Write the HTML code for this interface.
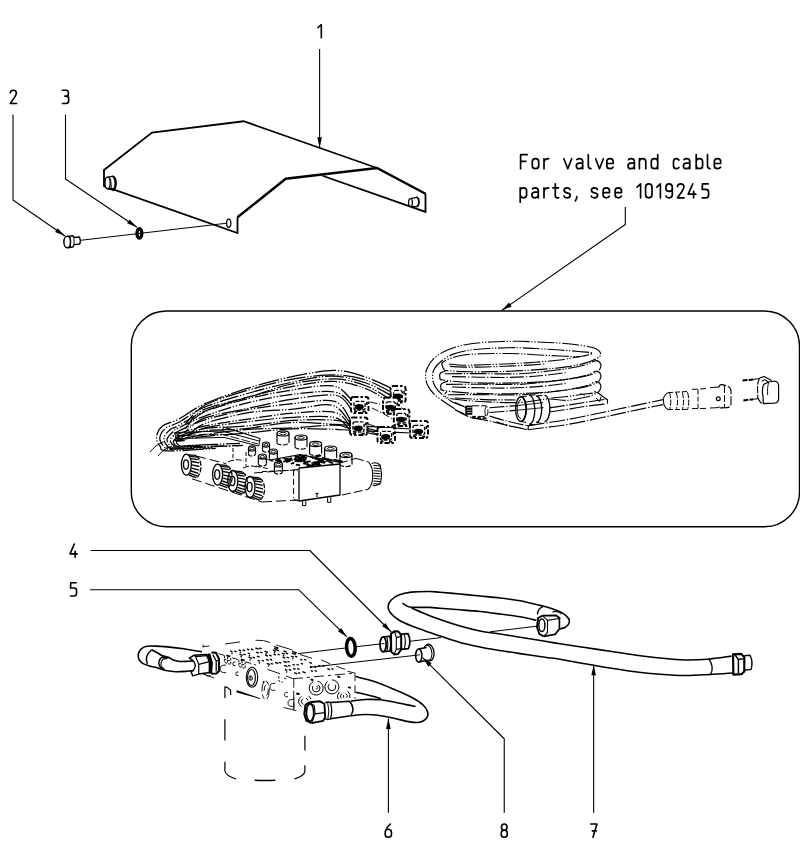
<!DOCTYPE html>
<html><head><meta charset="utf-8"><title>Parts diagram</title>
<style>
html,body{margin:0;padding:0;background:#fff;}
body{width:800px;height:848px;overflow:hidden;font-family:"Liberation Sans",sans-serif;}
svg{display:block;}
</style></head><body>
<svg width="800" height="848" viewBox="0 0 800 848">
<rect width="800" height="848" fill="#fff"/>
<path d="M317.90,27.73 L321.32,24.50 L321.32,37.80" fill="none" stroke="#000" stroke-width="1.60" stroke-linecap="round" stroke-linejoin="round"/>
<path d="M10.30,92.86 Q10.49,90.20 13.34,90.20 Q16.38,90.20 16.38,93.05 Q16.38,94.95 14.48,97.42 L10.30,103.50 L16.57,103.50" fill="none" stroke="#000" stroke-width="1.60" stroke-linecap="round" stroke-linejoin="round"/>
<path d="M62.30,90.20 L66.10,90.20 Q68.38,90.20 68.38,92.48 L68.38,94.00 Q68.38,96.09 66.29,96.09 L64.77,96.09 M66.29,96.09 Q68.66,96.09 68.66,98.56 L68.66,100.84 Q68.66,103.50 65.91,103.50 L62.49,103.50" fill="none" stroke="#000" stroke-width="1.60" stroke-linecap="round" stroke-linejoin="round"/>
<path d="M75.13,557.30 L75.13,551.22 M74.37,544.00 L70.00,553.88 L77.22,553.88" fill="none" stroke="#000" stroke-width="1.60" stroke-linecap="round" stroke-linejoin="round"/>
<path d="M76.19,582.70 L70.77,582.70 L70.49,588.02 L73.91,588.02 Q76.57,588.02 76.57,590.49 L76.57,593.34 Q76.57,596.00 73.91,596.00 L70.49,596.00" fill="none" stroke="#000" stroke-width="1.60" stroke-linecap="round" stroke-linejoin="round"/>
<path d="M390.33,824.00 Q385.20,828.75 385.20,833.12 L385.20,834.26 Q385.20,837.30 388.33,837.30 Q391.47,837.30 391.47,834.26 L391.47,832.55 Q391.47,829.32 388.33,829.32 Q385.20,829.32 385.20,832.55" fill="none" stroke="#000" stroke-width="1.60" stroke-linecap="round" stroke-linejoin="round"/>
<path d="M504.24,830.08 Q501.49,830.08 501.49,827.42 L501.49,826.85 Q501.49,824.00 504.24,824.00 Q507.00,824.00 507.00,826.85 L507.00,827.42 Q507.00,830.08 504.24,830.08 Q501.20,830.08 501.20,833.12 L501.20,834.26 Q501.20,837.30 504.24,837.30 Q507.28,837.30 507.28,834.26 L507.28,833.12 Q507.28,830.08 504.24,830.08 Z" fill="none" stroke="#000" stroke-width="1.60" stroke-linecap="round" stroke-linejoin="round"/>
<path d="M590.70,824.00 L596.97,824.00 L592.98,837.30 M592.22,830.84 L596.40,830.84" fill="none" stroke="#000" stroke-width="1.60" stroke-linecap="round" stroke-linejoin="round"/>
<path d="M520.60,168.70 L520.60,154.70 L527.20,154.70 M520.60,161.30 L525.80,161.30" fill="none" stroke="#000" stroke-width="1.68" stroke-linecap="round" stroke-linejoin="round"/>
<path d="M532.30,165.70 L532.30,161.70 Q532.30,158.70 535.50,158.70 Q538.70,158.70 538.70,161.70 L538.70,165.70 Q538.70,168.70 535.50,168.70 Q532.30,168.70 532.30,165.70 Z" fill="none" stroke="#000" stroke-width="1.68" stroke-linecap="round" stroke-linejoin="round"/>
<path d="M544.00,168.70 L544.00,158.70 M544.00,162.70 Q544.30,158.70 548.60,158.70" fill="none" stroke="#000" stroke-width="1.68" stroke-linecap="round" stroke-linejoin="round"/>
<path d="M563.90,158.70 L567.80,168.70 L571.70,158.70" fill="none" stroke="#000" stroke-width="1.68" stroke-linecap="round" stroke-linejoin="round"/>
<path d="M576.90,159.70 Q577.90,158.70 579.50,158.70 Q582.70,158.70 582.70,161.70 L582.70,168.70 M582.70,163.10 L579.30,163.10 Q576.30,163.10 576.30,165.90 Q576.30,168.70 579.30,168.70 Q582.70,168.70 582.70,165.70" fill="none" stroke="#000" stroke-width="1.68" stroke-linecap="round" stroke-linejoin="round"/>
<path d="M588.30,154.70 L588.30,166.10 Q588.30,168.70 590.90,168.70" fill="none" stroke="#000" stroke-width="1.68" stroke-linecap="round" stroke-linejoin="round"/>
<path d="M595.60,158.70 L599.50,168.70 L603.40,158.70" fill="none" stroke="#000" stroke-width="1.68" stroke-linecap="round" stroke-linejoin="round"/>
<path d="M606.80,163.50 L613.20,163.50 L613.20,161.70 Q613.20,158.70 610.00,158.70 Q606.80,158.70 606.80,161.70 L606.80,165.70 Q606.80,168.70 610.00,168.70 Q612.40,168.70 613.10,167.10" fill="none" stroke="#000" stroke-width="1.68" stroke-linecap="round" stroke-linejoin="round"/>
<path d="M628.60,159.70 Q629.60,158.70 631.20,158.70 Q634.40,158.70 634.40,161.70 L634.40,168.70 M634.40,163.10 L631.00,163.10 Q628.00,163.10 628.00,165.90 Q628.00,168.70 631.00,168.70 Q634.40,168.70 634.40,165.70" fill="none" stroke="#000" stroke-width="1.68" stroke-linecap="round" stroke-linejoin="round"/>
<path d="M639.40,168.70 L639.40,158.70 M639.40,161.70 Q639.40,158.70 642.60,158.70 Q645.80,158.70 645.80,161.70 L645.80,168.70" fill="none" stroke="#000" stroke-width="1.68" stroke-linecap="round" stroke-linejoin="round"/>
<path d="M657.70,154.70 L657.70,168.70 M657.70,165.70 Q657.70,168.70 654.50,168.70 Q651.30,168.70 651.30,165.70 L651.30,161.70 Q651.30,158.70 654.50,158.70 Q657.70,158.70 657.70,161.70" fill="none" stroke="#000" stroke-width="1.68" stroke-linecap="round" stroke-linejoin="round"/>
<path d="M678.90,160.10 Q678.30,158.70 676.50,158.70 Q673.50,158.70 673.50,161.70 L673.50,165.70 Q673.50,168.70 676.50,168.70 Q678.30,168.70 678.90,167.30" fill="none" stroke="#000" stroke-width="1.68" stroke-linecap="round" stroke-linejoin="round"/>
<path d="M684.00,159.70 Q685.00,158.70 686.60,158.70 Q689.80,158.70 689.80,161.70 L689.80,168.70 M689.80,163.10 L686.40,163.10 Q683.40,163.10 683.40,165.90 Q683.40,168.70 686.40,168.70 Q689.80,168.70 689.80,165.70" fill="none" stroke="#000" stroke-width="1.68" stroke-linecap="round" stroke-linejoin="round"/>
<path d="M696.20,154.70 L696.20,168.70 M696.20,165.70 Q696.20,168.70 699.40,168.70 Q702.60,168.70 702.60,165.70 L702.60,161.70 Q702.60,158.70 699.40,158.70 Q696.20,158.70 696.20,161.70" fill="none" stroke="#000" stroke-width="1.68" stroke-linecap="round" stroke-linejoin="round"/>
<path d="M707.50,154.70 L707.50,166.10 Q707.50,168.70 710.10,168.70" fill="none" stroke="#000" stroke-width="1.68" stroke-linecap="round" stroke-linejoin="round"/>
<path d="M714.30,163.50 L720.70,163.50 L720.70,161.70 Q720.70,158.70 717.50,158.70 Q714.30,158.70 714.30,161.70 L714.30,165.70 Q714.30,168.70 717.50,168.70 Q719.90,168.70 720.60,167.10" fill="none" stroke="#000" stroke-width="1.68" stroke-linecap="round" stroke-linejoin="round"/>
<path d="M520.20,187.80 L520.20,202.20 M520.20,190.80 Q520.20,187.80 523.40,187.80 Q526.60,187.80 526.60,190.80 L526.60,194.80 Q526.60,197.80 523.40,197.80 Q520.20,197.80 520.20,194.80" fill="none" stroke="#000" stroke-width="1.68" stroke-linecap="round" stroke-linejoin="round"/>
<path d="M532.50,188.80 Q533.50,187.80 535.10,187.80 Q538.30,187.80 538.30,190.80 L538.30,197.80 M538.30,192.20 L534.90,192.20 Q531.90,192.20 531.90,195.00 Q531.90,197.80 534.90,197.80 Q538.30,197.80 538.30,194.80" fill="none" stroke="#000" stroke-width="1.68" stroke-linecap="round" stroke-linejoin="round"/>
<path d="M544.00,197.80 L544.00,187.80 M544.00,191.80 Q544.30,187.80 548.60,187.80" fill="none" stroke="#000" stroke-width="1.68" stroke-linecap="round" stroke-linejoin="round"/>
<path d="M555.30,183.80 L555.30,195.40 Q555.30,197.80 557.70,197.80 L558.70,197.80 M552.90,187.80 L558.50,187.80" fill="none" stroke="#000" stroke-width="1.68" stroke-linecap="round" stroke-linejoin="round"/>
<path d="M570.10,189.60 Q569.50,187.80 567.10,187.80 Q564.10,187.80 564.10,190.30 Q564.10,192.40 567.10,192.80 Q570.30,193.20 570.30,195.30 Q570.30,197.80 567.10,197.80 Q564.50,197.80 563.90,196.00" fill="none" stroke="#000" stroke-width="1.68" stroke-linecap="round" stroke-linejoin="round"/>
<path d="M576.80,196.60 L576.80,197.80 L575.40,200.80" fill="none" stroke="#000" stroke-width="1.68" stroke-linecap="round" stroke-linejoin="round"/>
<path d="M597.40,189.60 Q596.80,187.80 594.40,187.80 Q591.40,187.80 591.40,190.30 Q591.40,192.40 594.40,192.80 Q597.60,193.20 597.60,195.30 Q597.60,197.80 594.40,197.80 Q591.80,197.80 591.20,196.00" fill="none" stroke="#000" stroke-width="1.68" stroke-linecap="round" stroke-linejoin="round"/>
<path d="M603.10,192.60 L609.50,192.60 L609.50,190.80 Q609.50,187.80 606.30,187.80 Q603.10,187.80 603.10,190.80 L603.10,194.80 Q603.10,197.80 606.30,197.80 Q608.70,197.80 609.40,196.20" fill="none" stroke="#000" stroke-width="1.68" stroke-linecap="round" stroke-linejoin="round"/>
<path d="M615.10,192.60 L621.50,192.60 L621.50,190.80 Q621.50,187.80 618.30,187.80 Q615.10,187.80 615.10,190.80 L615.10,194.80 Q615.10,197.80 618.30,197.80 Q620.70,197.80 621.40,196.20" fill="none" stroke="#000" stroke-width="1.68" stroke-linecap="round" stroke-linejoin="round"/>
<path d="M637.00,187.20 L640.60,183.80 L640.60,197.80" fill="none" stroke="#000" stroke-width="1.68" stroke-linecap="round" stroke-linejoin="round"/>
<path d="M645.60,194.80 L645.60,186.80 Q645.60,183.80 648.80,183.80 Q652.00,183.80 652.00,186.80 L652.00,194.80 Q652.00,197.80 648.80,197.80 Q645.60,197.80 645.60,194.80 Z" fill="none" stroke="#000" stroke-width="1.68" stroke-linecap="round" stroke-linejoin="round"/>
<path d="M656.80,187.20 L660.40,183.80 L660.40,197.80" fill="none" stroke="#000" stroke-width="1.68" stroke-linecap="round" stroke-linejoin="round"/>
<path d="M672.30,187.20 Q672.30,183.80 669.10,183.80 Q665.90,183.80 665.90,187.20 L665.90,188.20 Q665.90,191.40 669.10,191.40 Q672.30,191.40 672.30,188.20 M672.30,187.20 L672.30,194.80 Q672.30,197.80 669.10,197.80 Q666.50,197.80 665.90,196.00" fill="none" stroke="#000" stroke-width="1.68" stroke-linecap="round" stroke-linejoin="round"/>
<path d="M677.50,186.60 Q677.70,183.80 680.70,183.80 Q683.90,183.80 683.90,186.80 Q683.90,188.80 681.90,191.40 L677.50,197.80 L684.10,197.80" fill="none" stroke="#000" stroke-width="1.68" stroke-linecap="round" stroke-linejoin="round"/>
<path d="M693.60,197.80 L693.60,191.40 M692.80,183.80 L688.20,194.20 L695.80,194.20" fill="none" stroke="#000" stroke-width="1.68" stroke-linecap="round" stroke-linejoin="round"/>
<path d="M708.20,183.80 L702.50,183.80 L702.20,189.40 L705.80,189.40 Q708.60,189.40 708.60,192.00 L708.60,195.00 Q708.60,197.80 705.80,197.80 L702.20,197.80" fill="none" stroke="#000" stroke-width="1.68" stroke-linecap="round" stroke-linejoin="round"/>
<path d="M319.60,49.00 L319.60,147.70" fill="none" stroke="#000" stroke-width="1.1" stroke-linecap="butt" stroke-linejoin="round"/>
<polygon points="319.60,147.70 317.30,137.20 321.90,137.20" fill="#000"/>
<path d="M13.00,114.50 L13.00,200.00 L65.00,236.00" fill="none" stroke="#000" stroke-width="1.1" stroke-linecap="butt" stroke-linejoin="round"/>
<polygon points="65.00,236.00 55.06,231.91 57.68,228.13" fill="#000"/>
<path d="M65.50,114.50 L65.50,179.00 L137.00,227.20" fill="none" stroke="#000" stroke-width="1.1" stroke-linecap="butt" stroke-linejoin="round"/>
<polygon points="137.00,227.20 127.01,223.24 129.58,219.42" fill="#000"/>
<path d="M625.30,207.00 L625.30,224.50 L501.70,310.50" fill="none" stroke="#000" stroke-width="1.1" stroke-linecap="butt" stroke-linejoin="round"/>
<polygon points="501.70,310.50 509.01,302.62 511.63,306.39" fill="#000"/>
<rect x="131.3" y="311" width="668.2" height="215.8" rx="35" ry="35" fill="none" stroke="#000" stroke-width="1.4"/>
<path d="M322.5,175.75 L425.5,211.9 L425.5,193.75 M377,168 L243.75,121.25 L152,132.5 L104,170 L104,186 L237.5,233 L237.5,217.3" fill="none" stroke="#000" stroke-width="1.8" stroke-linecap="butt" stroke-linejoin="miter"/>
<path d="M237.5,217.3 L285.75,178.75 L377,168 L425.5,193.75" fill="none" stroke="#000" stroke-width="2.5" stroke-linecap="butt" stroke-linejoin="miter"/>
<path d="M80.7,240.3 L226,223.3" fill="none" stroke="#000" stroke-width="1.0" stroke-linecap="butt" stroke-linejoin="round"/>
<ellipse cx="228.75" cy="223.25" rx="2.1" ry="4.1" fill="#fff" stroke="#000" stroke-width="1.3"/>
<path d="M107.5,177.2 L112.8,176.4 M107.5,188.8 L112.8,189.8" fill="none" stroke="#000" stroke-width="1.2" stroke-linecap="butt" stroke-linejoin="round"/>
<path d="M112.5,176.4 A3.2,6.8 0 0 1 112.5,190" fill="none" stroke="#000" stroke-width="2.4" stroke-linecap="butt" stroke-linejoin="round"/>
<ellipse cx="107.6" cy="183" rx="2.6" ry="5.8" fill="#fff" stroke="#000" stroke-width="1.3"/>
<path d="M110.6,178.6 L111.4,187.6" fill="none" stroke="#000" stroke-width="0.9" stroke-linecap="butt" stroke-linejoin="round"/>
<path d="M410.5,198.6 L416.5,197.4 M410.5,206.4 L416.5,206.6" fill="none" stroke="#000" stroke-width="1.2" stroke-linecap="butt" stroke-linejoin="round"/>
<path d="M416.3,197.4 A2.6,4.6 0 0 1 416.3,206.6" fill="none" stroke="#000" stroke-width="1.8" stroke-linecap="butt" stroke-linejoin="round"/>
<ellipse cx="410.5" cy="202.5" rx="1.9" ry="3.9" fill="#fff" stroke="#000" stroke-width="1.3"/>
<path d="M67.3,236.4 L73,235.8 L74,237.4 L79.5,237 Q81,240.6 79.8,244 L74,244.6 L73,247 L67.3,247.8" fill="none" stroke="#000" stroke-width="1.4" stroke-linecap="butt" stroke-linejoin="round"/>
<path d="M74,237.4 L74,244.6 M70.2,236.2 L70.6,247.4" fill="none" stroke="#000" stroke-width="1.0" stroke-linecap="butt" stroke-linejoin="round"/>
<ellipse cx="67.2" cy="242" rx="3.3" ry="5.7" fill="#fff" stroke="#000" stroke-width="1.5"/>
<ellipse cx="139.4" cy="233.4" rx="2.4" ry="4.7" fill="none" stroke="#000" stroke-width="3.3"/>
<path d="M455.00,408.75 C453.33,407.71 448.54,405.00 445.00,402.50 C441.46,400.00 436.67,396.67 433.75,393.75 C430.83,390.83 428.86,387.92 427.50,385.00 C426.14,382.08 425.60,379.17 425.60,376.25 C425.60,373.33 425.93,370.62 427.50,367.50 C429.07,364.38 431.67,360.42 435.00,357.50 C438.33,354.58 442.71,352.08 447.50,350.00 C452.29,347.92 457.92,346.25 463.75,345.00 C469.58,343.75 476.25,343.08 482.50,342.50 C488.75,341.92 495.00,341.71 501.25,341.50 C507.50,341.29 514.38,341.18 520.00,341.25 C525.62,341.32 528.33,341.59 535.00,341.90 C541.67,342.21 552.71,342.58 560.00,343.10 C567.29,343.62 573.33,344.27 578.75,345.00 C584.17,345.73 589.17,346.57 592.50,347.50 C595.83,348.43 597.40,349.45 598.75,350.60 C600.10,351.75 600.81,353.15 600.60,354.40 C600.39,355.65 600.10,356.65 597.50,358.10 C594.90,359.55 590.21,361.63 585.00,363.10 C579.79,364.57 573.54,365.85 566.25,366.90 C558.96,367.95 550.62,368.67 541.25,369.40 C531.88,370.12 521.88,370.85 510.00,371.25 C498.12,371.65 480.52,371.91 470.00,371.80 C459.48,371.69 451.27,371.11 446.90,370.60 C442.52,370.09 444.52,369.60 443.75,368.75 C442.98,367.90 442.51,366.54 442.30,365.50 C442.09,364.46 441.01,363.73 442.50,362.50 C443.99,361.27 447.71,359.35 451.25,358.10 C454.79,356.85 458.54,355.73 463.75,355.00 C468.96,354.27 476.25,354.00 482.50,353.75 C488.75,353.50 495.00,353.50 501.25,353.50 C507.50,353.50 514.38,353.54 520.00,353.75 C525.62,353.96 528.33,354.38 535.00,354.75 C541.67,355.12 552.50,355.64 560.00,356.00 C567.50,356.36 576.67,356.75 580.00,356.90" fill="none" stroke="#000" stroke-width="1.15" stroke-linecap="butt" stroke-linejoin="round" stroke-dasharray="17 1.7 1.3 1.7 1.3 1.7"/>
<path d="M463.75,406.25 C461.88,405.52 456.04,403.77 452.50,401.90 C448.96,400.02 445.42,397.61 442.50,395.00 C439.58,392.39 436.67,389.17 435.00,386.25 C433.33,383.33 432.60,380.42 432.50,377.50 C432.40,374.58 432.94,371.46 434.40,368.75 C435.86,366.04 438.23,363.64 441.25,361.25 C444.27,358.86 447.71,356.27 452.50,354.40 C457.29,352.52 463.96,350.98 470.00,350.00 C476.04,349.02 482.50,348.88 488.75,348.50 C495.00,348.12 502.29,347.88 507.50,347.75 C512.71,347.62 515.42,347.62 520.00,347.75 C524.58,347.88 528.33,348.12 535.00,348.50 C541.67,348.88 552.71,349.50 560.00,350.00 C567.29,350.50 573.33,350.98 578.75,351.50 C584.17,352.02 591.29,352.45 592.50,353.10 C593.71,353.75 588.50,354.77 586.00,355.40 C583.50,356.03 581.83,356.13 577.50,356.90 C573.17,357.67 567.08,359.11 560.00,360.00 C552.92,360.89 543.33,361.62 535.00,362.25 C526.67,362.88 518.75,363.32 510.00,363.75 C501.25,364.18 490.21,364.56 482.50,364.80 C474.79,365.04 469.50,365.33 463.75,365.20 C458.00,365.07 450.62,364.20 448.00,364.00" fill="none" stroke="#000" stroke-width="1.15" stroke-linecap="butt" stroke-linejoin="round" stroke-dasharray="17 1.7 1.3 1.7 1.3 1.7"/>
<path d="M450.00,366.40 C453.33,366.53 462.50,367.17 470.00,367.20 C477.50,367.23 486.67,366.87 495.00,366.60 C503.33,366.33 511.67,366.03 520.00,365.60 C528.33,365.17 540.83,364.27 545.00,364.00" fill="none" stroke="#000" stroke-width="1.15" stroke-linecap="butt" stroke-linejoin="round" stroke-dasharray="17 1.7 1.3 1.7 1.3 1.7"/>
<path d="M445.00,373.75 C449.17,373.73 461.67,373.59 470.00,373.60 C478.33,373.61 486.67,373.78 495.00,373.80 C503.33,373.82 512.29,374.07 520.00,373.75 C527.71,373.43 533.54,372.73 541.25,371.90 C548.96,371.07 558.96,369.90 566.25,368.75 C573.54,367.60 580.00,366.36 585.00,365.00 C590.00,363.64 593.65,360.81 596.25,360.60 C598.85,360.39 599.98,362.39 600.60,363.75 C601.23,365.11 600.73,367.29 600.00,368.75 C599.27,370.21 598.75,371.25 596.25,372.50 C593.75,373.75 590.00,375.10 585.00,376.25 C580.00,377.40 573.54,378.46 566.25,379.40 C558.96,380.34 550.62,381.28 541.25,381.90 C531.88,382.52 521.88,382.98 510.00,383.10 C498.12,383.22 481.17,383.12 470.00,382.60 C458.83,382.08 448.00,380.85 443.00,380.00 C438.00,379.15 440.40,378.67 440.00,377.50 C439.60,376.33 439.45,374.15 440.60,373.00 C441.75,371.85 445.85,371.00 446.90,370.60" fill="none" stroke="#000" stroke-width="1.15" stroke-linecap="butt" stroke-linejoin="round" stroke-dasharray="17 1.7 1.3 1.7 1.3 1.7"/>
<path d="M445.97,384.35 C450.11,384.33 462.53,384.19 470.81,384.20 C479.09,384.21 487.38,384.38 495.66,384.40 C503.94,384.43 512.84,384.67 520.50,384.35 C528.16,384.03 533.96,383.33 541.62,382.50 C549.28,381.67 559.21,380.50 566.46,379.35 C573.71,378.20 580.12,376.96 585.09,375.60 C590.06,374.24 593.69,371.41 596.27,371.20 C598.86,370.99 599.98,372.99 600.60,374.35 C601.22,375.71 600.72,377.89 600.00,379.35 C599.28,380.81 598.76,381.85 596.27,383.10 C593.79,384.35 590.06,385.70 585.09,386.85 C580.12,388.00 573.71,389.06 566.46,390.00 C559.21,390.94 550.93,391.88 541.62,392.50 C532.30,393.12 522.36,393.58 510.56,393.70 C498.76,393.82 481.91,393.72 470.81,393.20 C459.72,392.68 448.95,391.45 443.98,390.60 C439.01,389.75 441.40,389.27 441.00,388.10 C440.60,386.93 440.45,384.75 441.60,383.60 C442.74,382.45 446.81,381.60 447.86,381.20" fill="none" stroke="#000" stroke-width="1.15" stroke-linecap="butt" stroke-linejoin="round" stroke-dasharray="17 1.7 1.3 1.7 1.3 1.7"/>
<path d="M447.91,394.75 C451.99,394.73 464.26,394.59 472.44,394.60 C480.61,394.61 488.79,394.78 496.97,394.80 C505.15,394.82 513.94,395.07 521.50,394.75 C529.06,394.43 534.79,393.73 542.35,392.90 C549.92,392.07 559.73,390.90 566.88,389.75 C574.04,388.60 580.38,387.36 585.28,386.00 C590.19,384.64 593.77,381.81 596.32,381.60 C598.87,381.39 599.98,383.39 600.59,384.75 C601.20,386.11 600.71,388.29 600.00,389.75 C599.29,391.21 598.77,392.25 596.32,393.50 C593.87,394.75 590.19,396.10 585.28,397.25 C580.38,398.40 573.18,400.11 566.88,400.40 C560.59,400.69 555.31,398.65 547.50,399.00 C539.69,399.35 531.25,402.08 520.00,402.50 C508.75,402.92 491.67,402.17 480.00,401.50 C468.33,400.83 455.83,399.67 450.00,398.50 C444.17,397.33 445.50,395.65 445.00,394.50 C444.50,393.35 446.67,392.08 447.00,391.60" fill="none" stroke="#000" stroke-width="1.15" stroke-linecap="butt" stroke-linejoin="round" stroke-dasharray="17 1.7 1.3 1.7 1.3 1.7"/>
<path d="M452.00,376.60 C456.67,376.70 470.33,377.07 480.00,377.20 C489.67,377.33 500.00,377.63 510.00,377.40 C520.00,377.17 530.67,376.60 540.00,375.80 C549.33,375.00 561.67,373.13 566.00,372.60" fill="none" stroke="#000" stroke-width="1.15" stroke-linecap="butt" stroke-linejoin="round" stroke-dasharray="14 2 1.3 2"/>
<path d="M452.00,387.00 C456.67,387.13 470.33,387.63 480.00,387.80 C489.67,387.97 500.00,388.23 510.00,388.00 C520.00,387.77 530.67,387.17 540.00,386.40 C549.33,385.63 561.67,383.90 566.00,383.40" fill="none" stroke="#000" stroke-width="1.15" stroke-linecap="butt" stroke-linejoin="round" stroke-dasharray="14 2 1.3 2"/>
<path d="M455.00,398.00 C460.00,398.27 474.92,399.27 485.00,399.60 C495.08,399.93 510.42,399.93 515.50,400.00" fill="none" stroke="#000" stroke-width="1.15" stroke-linecap="butt" stroke-linejoin="round" stroke-dasharray="17 1.7 1.3 1.7 1.3 1.7"/>
<path d="M551.30,398.00 C553.58,397.78 559.38,397.37 565.00,396.70 C570.62,396.03 579.58,394.70 585.00,394.00 C590.42,393.30 595.42,392.75 597.50,392.50" fill="none" stroke="#000" stroke-width="1.15" stroke-linecap="butt" stroke-linejoin="round" stroke-dasharray="17 1.7 1.3 1.7 1.3 1.7"/>
<path d="M455,402.2 L466,407.7 M455,409.75 L464.6,413.9" fill="none" stroke="#000" stroke-width="1.0" stroke-linecap="butt" stroke-linejoin="round"/>
<rect x="465.3" y="405.6" width="7" height="9.2" fill="#000"/>
<path d="M467,407.6 L471.6,407.6 M467,410.2 L471.6,410.2 M467,412.6 L471.6,412.6" fill="none" stroke="#fff" stroke-width="0.7" stroke-linecap="butt" stroke-linejoin="round"/>
<path d="M472.2,405.8 L486.5,405.8 Q489.6,411 486.6,416.4 L472.2,416.4" fill="none" stroke="#000" stroke-width="1.0" stroke-linecap="butt" stroke-linejoin="round" stroke-dasharray="7 2"/>
<path d="M486,406.2 Q483.6,411 485.6,416.2" fill="none" stroke="#000" stroke-width="0.9" stroke-linecap="butt" stroke-linejoin="round"/>
<path d="M471.5,417.6 L486.6,418.4" fill="none" stroke="#000" stroke-width="1.8" stroke-linecap="butt" stroke-linejoin="round" stroke-dasharray="4 1.5"/>
<path d="M489.40,407.70 C493.98,407.35 512.32,405.95 516.90,405.60" fill="none" stroke="#000" stroke-width="1.15" stroke-linecap="butt" stroke-linejoin="round" stroke-dasharray="15 1.8 1.3 1.8"/>
<path d="M489.40,412.50 C493.75,412.15 511.15,410.75 515.50,410.40" fill="none" stroke="#000" stroke-width="1.15" stroke-linecap="butt" stroke-linejoin="round" stroke-dasharray="15 1.8 1.3 1.8"/>
<path d="M521.1,396.7 A5.4,12.5 0 0 1 521.1,421.6" fill="none" stroke="#000" stroke-width="1.35" stroke-linecap="butt" stroke-linejoin="round"/>
<path d="M521.1,396.7 L527.1,396.1 M521.1,421.6 L526.1,422.4" fill="none" stroke="#000" stroke-width="1.0" stroke-linecap="butt" stroke-linejoin="round"/>
<path d="M529.4,395.4 A5.4,14.4 0 0 1 529.4,424.2" fill="none" stroke="#000" stroke-width="1.35" stroke-linecap="butt" stroke-linejoin="round"/>
<path d="M529.4,395.4 L535.4,394.8 M529.4,424.2 L534.4,425.0" fill="none" stroke="#000" stroke-width="1.0" stroke-linecap="butt" stroke-linejoin="round"/>
<path d="M536.3,396.0 A5.4,13.2 0 0 1 536.3,422.4" fill="none" stroke="#000" stroke-width="1.35" stroke-linecap="butt" stroke-linejoin="round"/>
<path d="M536.3,396.0 L542.3,395.4 M536.3,422.4 L541.3,423.2" fill="none" stroke="#000" stroke-width="1.0" stroke-linecap="butt" stroke-linejoin="round"/>
<path d="M544.5,395.4 A5.4,13.1 0 0 1 544.5,421.6" fill="none" stroke="#000" stroke-width="1.35" stroke-linecap="butt" stroke-linejoin="round"/>
<ellipse cx="521" cy="409" rx="5.4" ry="12.3" fill="none" stroke="#000" stroke-width="1.35"/>
<path d="M521,399.6 A3.6,9 0 0 0 521,418.6" fill="none" stroke="#000" stroke-width="1.0" stroke-linecap="butt" stroke-linejoin="round"/>
<path d="M516.9,405.6 L543,402.6 M515.5,410.4 L543.6,407.6" fill="none" stroke="#000" stroke-width="0.9" stroke-linecap="butt" stroke-linejoin="round"/>
<path d="M549.90,407.70 C552.42,407.35 559.15,406.48 565.00,405.60 C570.85,404.72 577.90,403.50 585.00,402.40 C592.10,401.30 603.83,399.57 607.60,399.00" fill="none" stroke="#000" stroke-width="1.15" stroke-linecap="butt" stroke-linejoin="round" stroke-dasharray="15 1.8 1.3 1.8"/>
<path d="M549.90,411.80 C552.42,411.46 559.15,410.65 565.00,409.75 C570.85,408.85 578.17,407.36 585.00,406.40 C591.83,405.44 602.50,404.40 606.00,404.00" fill="none" stroke="#000" stroke-width="1.15" stroke-linecap="butt" stroke-linejoin="round" stroke-dasharray="15 1.8 1.3 1.8"/>
<path d="M597.5,392.5 L607.5,400 L607.5,403.75" fill="none" stroke="#000" stroke-width="1.1" stroke-linecap="butt" stroke-linejoin="round"/>
<path d="M596,398 L599.6,401.6 L601.2,396.6" fill="none" stroke="#000" stroke-width="1.0" stroke-linecap="butt" stroke-linejoin="round"/>
<path d="M580,393.6 L585,395.2 M594,391 L597,392.6" fill="none" stroke="#000" stroke-width="0.9" stroke-linecap="butt" stroke-linejoin="round"/>
<path d="M455.00,409.75 C457.50,410.96 464.27,415.12 470.00,417.00 C475.73,418.88 482.73,419.50 489.40,421.00 C496.07,422.50 503.58,424.55 510.00,426.00 C516.42,427.45 524.92,429.08 527.90,429.70" fill="none" stroke="#000" stroke-width="1.15" stroke-linecap="butt" stroke-linejoin="round" stroke-dasharray="15 1.8 1.3 1.8"/>
<path d="M489.40,416.00 C492.00,416.77 498.82,419.00 505.00,420.60 C511.18,422.20 522.92,424.77 526.50,425.60" fill="none" stroke="#000" stroke-width="1.15" stroke-linecap="butt" stroke-linejoin="round" stroke-dasharray="15 1.8 1.3 1.8"/>
<path d="M496.25,421.90 C498.88,422.68 509.38,425.82 512.00,426.60" fill="none" stroke="#000" stroke-width="1.15" stroke-linecap="butt" stroke-linejoin="round" stroke-dasharray="8 2 1.5 2"/>
<path d="M528.6,425.6 L527.9,429.7 M526.5,425.6 L528.6,425.6" fill="none" stroke="#000" stroke-width="1.1" stroke-linecap="butt" stroke-linejoin="round"/>
<path d="M528.60,425.60 C534.67,424.67 553.10,422.10 565.00,420.00 C576.90,417.90 589.17,415.23 600.00,413.00 C610.83,410.77 619.50,408.83 630.00,406.60 C640.50,404.37 657.50,400.77 663.00,399.60" fill="none" stroke="#000" stroke-width="1.15" stroke-linecap="butt" stroke-linejoin="round" stroke-dasharray="16 1.8 1.3 1.8"/>
<path d="M527.90,429.70 C534.08,428.90 552.98,426.85 565.00,424.90 C577.02,422.95 589.17,420.25 600.00,418.00 C610.83,415.75 619.50,413.63 630.00,411.40 C640.50,409.17 657.50,405.73 663.00,404.60" fill="none" stroke="#000" stroke-width="1.15" stroke-linecap="butt" stroke-linejoin="round" stroke-dasharray="16 1.8 1.3 1.8"/>
<path d="M668,392.6 Q662.6,396 663.5,401 Q663.5,407 668,409.6" fill="none" stroke="#000" stroke-width="1.1" stroke-linecap="butt" stroke-linejoin="round"/>
<path d="M668,392.6 L689,391.4 M668,409.6 L689,409.4" fill="none" stroke="#000" stroke-width="1.0" stroke-linecap="butt" stroke-linejoin="round" stroke-dasharray="5 2"/>
<path d="M669.5,392.2 Q672.1,401.0 669.5,409.8" fill="none" stroke="#000" stroke-width="1.0" stroke-linecap="butt" stroke-linejoin="round" stroke-dasharray="6 1.5"/>
<path d="M676.2,392.2 Q678.9,401.0 676.2,409.8" fill="none" stroke="#000" stroke-width="1.0" stroke-linecap="butt" stroke-linejoin="round" stroke-dasharray="6 1.5"/>
<path d="M682.2,392.2 Q684.9,401.0 682.2,409.8" fill="none" stroke="#000" stroke-width="1.0" stroke-linecap="butt" stroke-linejoin="round" stroke-dasharray="6 1.5"/>
<path d="M687.5,392.2 Q690.1,401.0 687.5,409.8" fill="none" stroke="#000" stroke-width="1.0" stroke-linecap="butt" stroke-linejoin="round" stroke-dasharray="6 1.5"/>
<path d="M692,389.4 L707,388.6 M692,408.6 L707,408.4" fill="none" stroke="#000" stroke-width="1.0" stroke-linecap="butt" stroke-linejoin="round" stroke-dasharray="6 2"/>
<path d="M698,389.6 L698,408.4" fill="none" stroke="#000" stroke-width="1.0" stroke-linecap="butt" stroke-linejoin="round" stroke-dasharray="5 2"/>
<path d="M710,387.6 L719,387 M710,408 L719,407.6" fill="none" stroke="#000" stroke-width="1.0" stroke-linecap="butt" stroke-linejoin="round"/>
<path d="M719,387.6 Q719,384.4 722,384.6 L727.6,386 Q731.2,388 731,392 L731,403 Q731,407.4 727,407.6 L721,408" fill="none" stroke="#000" stroke-width="1.1" stroke-linecap="butt" stroke-linejoin="round" stroke-dasharray="9 2"/>
<path d="M724.4,386 L724.6,407.4" fill="none" stroke="#000" stroke-width="1.0" stroke-linecap="butt" stroke-linejoin="round" stroke-dasharray="7 2"/>
<circle cx="718.3" cy="398.8" r="1.9" fill="none" stroke="#000" stroke-width="1.2"/>
<path d="M719,406.6 Q721,409.6 723,407.2" fill="none" stroke="#000" stroke-width="1.0" stroke-linecap="butt" stroke-linejoin="round"/>
<path d="M742.6,380.6 L753.5,379.4 M743.4,400.4 L753.5,399.2" fill="none" stroke="#000" stroke-width="2.0" stroke-linecap="butt" stroke-linejoin="round" stroke-dasharray="5 1.2"/>
<path d="M753.5,379.4 L759,378.6 M753.5,399.2 L759,398.6" fill="none" stroke="#000" stroke-width="1.0" stroke-linecap="butt" stroke-linejoin="round"/>
<path d="M759.6,378 Q757,383 757.6,390 L757.8,398 M757.8,398 L760.6,402.6 L763.4,403.6" fill="none" stroke="#000" stroke-width="1.1" stroke-linecap="butt" stroke-linejoin="round" stroke-dasharray="7 1.5"/>
<path d="M759.6,378 L764,376.6 L771.6,380.4 M761.8,381.4 L764.6,379.6 L768.6,382" fill="none" stroke="#000" stroke-width="1.1" stroke-linecap="butt" stroke-linejoin="round"/>
<path d="M763.6,384.4 Q761.6,390 763,396.6 L763.4,403.6 L774.6,403.2 Q778.8,402.6 778.6,398 L778.6,386 Q778.6,381.6 774.6,381 L768.6,382 L763.6,384.4" fill="none" stroke="#000" stroke-width="1.2" stroke-linecap="butt" stroke-linejoin="round"/>
<path d="M768.6,382 Q767,388 767.6,395" fill="none" stroke="#000" stroke-width="0.9" stroke-linecap="butt" stroke-linejoin="round"/>
<path d="M390.86,388.00 C386.38,386.08 373.42,379.42 364.00,376.50 C354.58,373.58 346.34,370.43 334.35,370.45 C322.36,370.48 306.41,373.70 292.05,376.64 C277.68,379.59 262.78,383.57 248.17,388.12 C233.57,392.67 215.99,398.76 204.41,403.94 C192.83,409.11 185.64,415.46 178.66,419.15 C171.69,422.84 166.23,423.09 162.54,426.07 C158.85,429.04 156.94,433.60 156.54,436.98 C156.14,440.37 158.31,444.04 160.14,446.37 C161.98,448.70 158.28,450.64 167.54,450.96 C176.81,451.29 207.71,448.75 215.74,448.30" fill="none" stroke="#000" stroke-width="1.25" stroke-linecap="butt" stroke-linejoin="round" stroke-dasharray="21 1.8 1.3 1.8 1.3 1.8"/>
<path d="M391.93,392.50 C387.44,390.38 374.59,382.67 365.00,379.75 C355.41,376.83 346.68,375.05 334.40,374.98 C322.12,374.92 306.07,376.74 291.31,379.38 C276.54,382.03 260.27,386.50 245.78,390.84 C231.29,395.19 214.44,399.92 204.38,405.46 C194.33,411.00 188.60,420.98 185.44,424.08" fill="none" stroke="#000" stroke-width="1.25" stroke-linecap="butt" stroke-linejoin="round" stroke-dasharray="22 1.8 1.3 1.8 1.3 1.8"/>
<path d="M393.77,397.00 C389.14,394.67 376.24,386.47 366.00,383.00 C355.76,379.53 344.49,376.33 332.33,376.16 C320.17,375.99 307.57,378.99 293.03,381.99 C278.50,385.00 259.99,389.97 245.12,394.21 C230.25,398.46 214.85,402.80 203.82,407.48 C192.80,412.16 185.30,418.91 178.96,422.32 C172.63,425.73 169.01,425.41 165.82,427.95 C162.63,430.50 160.22,434.60 159.82,437.58 C159.42,440.57 161.58,443.89 163.42,445.85 C165.25,447.80 164.75,449.16 170.82,449.31 C176.88,449.46 194.99,447.17 199.82,446.75" fill="none" stroke="#000" stroke-width="1.25" stroke-linecap="butt" stroke-linejoin="round" stroke-dasharray="19 1.8 1.3 1.8 1.3 1.8"/>
<path d="M393.15,401.50 C388.79,398.96 376.67,390.01 367.00,386.25 C357.33,382.49 347.89,379.29 335.11,378.96 C322.34,378.63 304.72,381.23 290.35,384.26 C275.97,387.28 263.27,392.90 248.86,397.13 C234.44,401.35 214.03,404.95 203.85,409.59 C193.67,414.23 190.46,422.39 187.78,424.95" fill="none" stroke="#000" stroke-width="1.25" stroke-linecap="butt" stroke-linejoin="round" stroke-dasharray="18 1.8 1.3 1.8 1.3 1.8"/>
<path d="M394.02,406.00 C389.69,403.25 378.04,393.59 368.00,389.50 C357.96,385.41 346.30,381.98 333.79,381.47 C321.28,380.96 307.30,383.82 292.93,386.45 C278.56,389.07 262.27,393.06 247.57,397.20 C232.88,401.33 216.19,406.56 204.76,411.25 C193.33,415.95 184.80,422.30 178.99,425.38 C173.18,428.46 172.42,427.62 169.90,429.74 C167.39,431.86 164.30,435.40 163.90,438.10 C163.50,440.81 165.67,444.16 167.50,445.99 C169.34,447.82 167.30,448.79 174.90,449.08 C182.51,449.38 206.75,448.00 213.12,447.78" fill="none" stroke="#000" stroke-width="1.25" stroke-linecap="butt" stroke-linejoin="round" stroke-dasharray="13 1.8 1.3 1.8 1.3 1.8"/>
<path d="M351.00,399.00 C347.93,396.80 342.75,387.26 332.59,385.82 C322.43,384.39 304.08,388.24 290.04,390.38 C275.99,392.51 262.71,394.97 248.32,398.61 C233.94,402.26 214.24,407.26 203.72,412.24 C193.20,417.23 188.30,425.81 185.21,428.52" fill="none" stroke="#000" stroke-width="1.25" stroke-linecap="butt" stroke-linejoin="round" stroke-dasharray="14 1.8 1.3 1.8 1.3 1.8"/>
<path d="M351.00,404.00 C348.22,402.00 344.43,393.56 334.35,392.00 C324.27,390.43 305.02,392.80 290.54,394.61 C276.07,396.42 261.90,399.24 247.51,402.86 C233.12,406.47 215.74,412.07 204.19,416.29 C192.63,420.50 183.40,425.57 178.21,428.14 C173.01,430.71 174.89,429.84 173.03,431.70 C171.17,433.55 167.43,436.87 167.03,439.25 C166.63,441.64 168.80,444.56 170.63,446.02 C172.46,447.48 166.08,448.07 178.03,447.99 C189.97,447.90 231.58,445.91 242.29,445.50" fill="none" stroke="#000" stroke-width="1.25" stroke-linecap="butt" stroke-linejoin="round" stroke-dasharray="13 1.8 1.3 1.8 1.3 1.8"/>
<path d="M351.00,409.00 C348.48,406.70 345.55,396.85 335.85,395.22 C326.15,393.58 307.41,396.99 292.82,399.17 C278.23,401.36 263.03,405.16 248.29,408.33 C233.56,411.49 215.03,414.13 204.38,418.16 C193.73,422.18 187.71,430.09 184.37,432.47" fill="none" stroke="#000" stroke-width="1.25" stroke-linecap="butt" stroke-linejoin="round" stroke-dasharray="21 1.8 1.3 1.8 1.3 1.8"/>
<path d="M350.00,419.00 C347.41,416.06 343.85,403.93 334.46,401.34 C325.07,398.76 308.57,402.01 293.67,403.49 C278.77,404.97 259.87,407.49 245.07,410.22 C230.26,412.94 215.96,416.35 204.84,419.86 C193.71,423.36 183.07,428.98 178.31,431.25 C173.55,433.53 177.61,432.08 176.27,433.49 C174.93,434.91 170.67,437.71 170.27,439.73 C169.87,441.76 172.04,444.48 173.87,445.65 C175.71,446.82 169.77,446.79 181.27,446.76 C192.77,446.73 232.61,445.69 242.88,445.47" fill="none" stroke="#000" stroke-width="1.25" stroke-linecap="butt" stroke-linejoin="round" stroke-dasharray="14 1.8 1.3 1.8 1.3 1.8"/>
<path d="M350.00,422.67 C347.02,419.76 341.53,407.47 332.14,405.22 C322.75,402.97 307.52,407.94 293.64,409.18 C279.76,410.43 263.56,410.35 248.85,412.71 C234.15,415.06 215.38,419.70 205.41,423.29 C195.43,426.87 191.73,432.39 189.00,434.21" fill="none" stroke="#000" stroke-width="1.25" stroke-linecap="butt" stroke-linejoin="round" stroke-dasharray="18 1.8 1.3 1.8 1.3 1.8"/>
<path d="M350.00,426.33 C347.49,424.03 344.46,414.72 334.95,412.53 C325.44,410.34 307.41,412.10 292.95,413.19 C278.49,414.28 262.91,416.92 248.17,419.08 C233.44,421.24 216.29,423.65 204.56,426.15 C192.82,428.65 181.95,432.48 177.76,434.07 C173.57,435.65 180.14,434.47 179.42,435.68 C178.69,436.88 173.82,439.53 173.42,441.29 C173.02,443.05 175.18,445.38 177.02,446.23 C178.85,447.07 180.46,446.55 184.42,446.36 C188.37,446.18 198.03,445.34 200.75,445.14" fill="none" stroke="#000" stroke-width="1.25" stroke-linecap="butt" stroke-linejoin="round" stroke-dasharray="13 1.8 1.3 1.8 1.3 1.8"/>
<path d="M350.00,430.00 C347.43,427.91 343.97,419.60 334.56,417.48 C325.14,415.36 308.19,416.56 293.52,417.28 C278.85,418.00 261.27,420.04 246.55,421.80 C231.84,423.56 215.08,425.41 205.24,427.85 C195.40,430.28 190.46,435.00 187.50,436.44" fill="none" stroke="#000" stroke-width="1.25" stroke-linecap="butt" stroke-linejoin="round" stroke-dasharray="19 1.8 1.3 1.8 1.3 1.8"/>
<path d="M378.00,431.00 C373.67,429.92 359.35,426.30 352.00,424.50 C344.65,422.70 343.79,420.86 333.92,420.19 C324.06,419.52 307.20,419.53 292.79,420.49 C278.38,421.45 262.21,424.56 247.46,425.93 C232.70,427.30 215.93,426.91 204.27,428.73 C192.60,430.55 181.11,435.41 177.48,436.82 C173.86,438.24 182.67,436.41 182.50,437.20 C182.34,437.99 176.90,440.11 176.50,441.57 C176.10,443.03 178.27,445.28 180.10,445.94 C181.94,446.59 177.52,445.93 187.50,445.51 C197.48,445.08 231.24,443.74 239.99,443.38" fill="none" stroke="#000" stroke-width="1.25" stroke-linecap="butt" stroke-linejoin="round" stroke-dasharray="19 1.8 1.3 1.8 1.3 1.8"/>
<path d="M411.00,429.00 C401.17,428.42 364.63,426.29 352.00,425.53 C339.37,424.77 345.41,424.93 335.21,424.43 C325.02,423.93 305.69,421.83 290.80,422.53 C275.91,423.22 260.32,427.18 245.88,428.60 C231.43,430.02 215.83,429.33 204.13,431.05 C192.43,432.77 179.36,437.41 175.70,438.93 C172.04,440.44 181.09,439.93 182.16,440.13" fill="none" stroke="#000" stroke-width="1.25" stroke-linecap="butt" stroke-linejoin="round" stroke-dasharray="22 1.8 1.3 1.8 1.3 1.8"/>
<path d="M378.00,435.00 C373.67,434.06 359.12,431.00 352.00,429.37 C344.88,427.73 345.31,425.41 335.29,425.17 C325.27,424.94 306.38,427.24 291.89,427.95 C277.39,428.66 262.79,428.35 248.32,429.43 C233.85,430.52 217.04,432.66 205.06,434.45 C193.08,436.24 179.86,439.15 176.43,440.18 C173.01,441.21 183.15,440.56 184.50,440.64" fill="none" stroke="#000" stroke-width="1.25" stroke-linecap="butt" stroke-linejoin="round" stroke-dasharray="21 1.8 1.3 1.8 1.3 1.8"/>
<path d="M411.00,433.00 C401.17,432.57 364.98,431.01 352.00,430.40 C339.02,429.79 342.99,429.60 333.11,429.32 C323.23,429.05 307.16,428.14 292.71,428.76 C278.26,429.37 261.00,431.74 246.42,433.01 C231.83,434.28 216.96,435.11 205.19,436.37 C193.42,437.62 179.16,439.84 175.81,440.53 C172.46,441.23 183.53,440.53 185.08,440.53" fill="none" stroke="#000" stroke-width="1.25" stroke-linecap="butt" stroke-linejoin="round" stroke-dasharray="20 1.8 1.3 1.8 1.3 1.8"/>
<path d="M392.00,400.00 C394.00,401.67 401.00,406.50 404.00,410.00 C407.00,413.50 409.00,419.17 410.00,421.00" fill="none" stroke="#000" stroke-width="1.0" stroke-linecap="butt" stroke-linejoin="round" stroke-dasharray="7 2 1.2 2"/>
<path d="M372.00,408.00 C374.00,409.00 380.33,412.00 384.00,414.00 C387.67,416.00 392.33,419.00 394.00,420.00" fill="none" stroke="#000" stroke-width="1.0" stroke-linecap="butt" stroke-linejoin="round" stroke-dasharray="7 2 1.2 2"/>
<path d="M370.00,402.00 C371.67,402.33 377.33,403.83 380.00,404.00 C382.67,404.17 385.00,403.17 386.00,403.00" fill="none" stroke="#000" stroke-width="1.0" stroke-linecap="butt" stroke-linejoin="round" stroke-dasharray="7 2 1.2 2"/>
<path d="M368.00,424.00 C370.67,424.67 379.33,428.00 384.00,428.00 C388.67,428.00 394.00,424.67 396.00,424.00" fill="none" stroke="#000" stroke-width="1.0" stroke-linecap="butt" stroke-linejoin="round" stroke-dasharray="7 2 1.2 2"/>
<path d="M368.00,430.00 C369.00,430.50 372.33,432.33 374.00,433.00 C375.67,433.67 377.33,433.83 378.00,434.00" fill="none" stroke="#000" stroke-width="1.0" stroke-linecap="butt" stroke-linejoin="round"/>
<rect x="391.6" y="387.0" width="13.0" height="14.5" rx="3" fill="#fff" stroke="none"/>
<rect x="390.6" y="386.0" width="15.0" height="16.5" rx="2.5" fill="none" stroke="#000" stroke-width="1.9" stroke-dasharray="5 2 2.4 2"/>
<rect x="393.6" y="390.4" width="8.6" height="9.1" rx="2" fill="none" stroke="#000" stroke-width="1.4" stroke-dasharray="3.4 1.5"/>
<ellipse cx="397.7" cy="396.2" rx="4.6" ry="2.8" fill="#000"/>
<path d="M393.6,400.9 l3,0 M399.6,401.1 l3.4,0 M404.0,391.0 l0,3" fill="none" stroke="#000" stroke-width="1.6" stroke-linecap="butt" stroke-linejoin="round"/>
<rect x="384.0" y="398.5" width="13.8" height="14.2" rx="3" fill="#fff" stroke="none"/>
<rect x="383.0" y="397.5" width="15.8" height="16.2" rx="2.5" fill="none" stroke="#000" stroke-width="1.9" stroke-dasharray="5 2 2.4 2"/>
<rect x="386.0" y="401.9" width="9.4" height="8.8" rx="2" fill="none" stroke="#000" stroke-width="1.4" stroke-dasharray="3.4 1.5"/>
<ellipse cx="390.4" cy="407.5" rx="4.6" ry="2.8" fill="#000"/>
<path d="M386.0,412.1 l3,0 M392.8,412.3 l3.4,0 M397.2,402.5 l0,3" fill="none" stroke="#000" stroke-width="1.6" stroke-linecap="butt" stroke-linejoin="round"/>
<rect x="394.8" y="410.0" width="13.6" height="15.0" rx="3" fill="#fff" stroke="none"/>
<rect x="393.8" y="409.0" width="15.6" height="17.0" rx="2.5" fill="none" stroke="#000" stroke-width="1.9" stroke-dasharray="5 2 2.4 2"/>
<rect x="396.8" y="413.4" width="9.2" height="9.6" rx="2" fill="none" stroke="#000" stroke-width="1.4" stroke-dasharray="3.4 1.5"/>
<ellipse cx="401.1" cy="419.5" rx="4.6" ry="2.8" fill="#000"/>
<path d="M396.8,424.4 l3,0 M403.4,424.6 l3.4,0 M407.8,414.0 l0,3" fill="none" stroke="#000" stroke-width="1.6" stroke-linecap="butt" stroke-linejoin="round"/>
<rect x="352.0" y="398.0" width="15.5" height="14.0" rx="3" fill="#fff" stroke="none"/>
<rect x="351.0" y="397.0" width="17.5" height="16.0" rx="2.5" fill="none" stroke="#000" stroke-width="1.9" stroke-dasharray="5 2 2.4 2"/>
<rect x="354.0" y="401.4" width="11.1" height="8.6" rx="2" fill="none" stroke="#000" stroke-width="1.4" stroke-dasharray="3.4 1.5"/>
<ellipse cx="359.2" cy="406.9" rx="4.6" ry="2.8" fill="#000"/>
<path d="M354.0,411.4 l3,0 M362.5,411.6 l3.4,0 M366.9,402.0 l0,3" fill="none" stroke="#000" stroke-width="1.6" stroke-linecap="butt" stroke-linejoin="round"/>
<rect x="351.0" y="418.5" width="15.5" height="15.5" rx="3" fill="#fff" stroke="none"/>
<rect x="350.0" y="417.5" width="17.5" height="17.5" rx="2.5" fill="none" stroke="#000" stroke-width="1.9" stroke-dasharray="5 2 2.4 2"/>
<rect x="353.0" y="421.9" width="11.1" height="10.1" rx="2" fill="none" stroke="#000" stroke-width="1.4" stroke-dasharray="3.4 1.5"/>
<ellipse cx="358.2" cy="428.4" rx="4.6" ry="2.8" fill="#000"/>
<path d="M353.0,433.4 l3,0 M361.5,433.6 l3.4,0 M365.9,422.5 l0,3" fill="none" stroke="#000" stroke-width="1.6" stroke-linecap="butt" stroke-linejoin="round"/>
<rect x="378.5" y="428.0" width="15.5" height="14.0" rx="3" fill="#fff" stroke="none"/>
<rect x="377.5" y="427.0" width="17.5" height="16.0" rx="2.5" fill="none" stroke="#000" stroke-width="1.9" stroke-dasharray="5 2 2.4 2"/>
<rect x="380.5" y="431.4" width="11.1" height="8.6" rx="2" fill="none" stroke="#000" stroke-width="1.4" stroke-dasharray="3.4 1.5"/>
<ellipse cx="385.7" cy="436.9" rx="4.6" ry="2.8" fill="#000"/>
<path d="M380.5,441.4 l3,0 M389.0,441.6 l3.4,0 M393.4,432.0 l0,3" fill="none" stroke="#000" stroke-width="1.6" stroke-linecap="butt" stroke-linejoin="round"/>
<rect x="411.0" y="422.0" width="16.0" height="15.0" rx="3" fill="#fff" stroke="none"/>
<rect x="410.0" y="421.0" width="18.0" height="17.0" rx="2.5" fill="none" stroke="#000" stroke-width="1.9" stroke-dasharray="5 2 2.4 2"/>
<rect x="413.0" y="425.4" width="11.6" height="9.6" rx="2" fill="none" stroke="#000" stroke-width="1.4" stroke-dasharray="3.4 1.5"/>
<ellipse cx="418.5" cy="431.5" rx="4.6" ry="2.8" fill="#000"/>
<path d="M413.0,436.4 l3,0 M422.0,436.6 l3.4,0 M426.4,426.0 l0,3" fill="none" stroke="#000" stroke-width="1.6" stroke-linecap="butt" stroke-linejoin="round"/>
<path d="M150.00,452.00 C151.00,451.00 153.50,447.83 156.00,446.00 C158.50,444.17 163.50,441.83 165.00,441.00" fill="none" stroke="#000" stroke-width="1.0" stroke-linecap="butt" stroke-linejoin="round"/>
<path d="M158.00,456.00 C159.00,455.00 161.67,451.67 164.00,450.00 C166.33,448.33 170.67,446.67 172.00,446.00" fill="none" stroke="#000" stroke-width="1.0" stroke-linecap="butt" stroke-linejoin="round"/>
<path d="M166.00,447.00 C168.33,447.33 175.00,448.83 180.00,449.00 C185.00,449.17 193.33,448.17 196.00,448.00" fill="none" stroke="#000" stroke-width="1.0" stroke-linecap="butt" stroke-linejoin="round" stroke-dasharray="8 2"/>
<path d="M174.5,432.6 L222,431 L259.6,441.2 L258.8,446 L224,437.4 L176,438.6 Z" fill="none" stroke="#000" stroke-width="1.0" stroke-linecap="butt" stroke-linejoin="round"/>
<path d="M223.5,427 L260,438.4 L259.6,441.2 M223.5,427 L222.6,431" fill="none" stroke="#000" stroke-width="1.1" stroke-linecap="butt" stroke-linejoin="round"/>
<path d="M176,435.6 L222,434.2 L258,444" fill="none" stroke="#000" stroke-width="0.9" stroke-linecap="butt" stroke-linejoin="round" stroke-dasharray="9 2"/>
<ellipse cx="186.4" cy="464.6" rx="5.0" ry="10.5" fill="none" stroke="#000" stroke-width="1.30"/>
<ellipse cx="186.0" cy="464.6" rx="2.5" ry="4.7" fill="none" stroke="#000" stroke-width="1.30"/>
<path d="M195.9,456.2 A5.0,10.5 0 0 1 195.9,477.2" fill="none" stroke="#000" stroke-width="1.3" stroke-linecap="butt" stroke-linejoin="round" stroke-dasharray="5 1.5"/>
<path d="M188.5,454.8 l7.4,0.5 M189.9,456.3 l7.4,0.8 M191.0,458.6 l7.4,1.1 M191.8,461.5 l7.4,1.4 M192.0,464.8 l7.4,1.7 M191.8,468.1 l7.4,2.0 M191.0,471.0 l7.4,2.3 M189.9,473.3 l7.4,2.6 M188.5,474.8 l7.4,2.9 " fill="none" stroke="#000" stroke-width="1.35" stroke-linecap="butt" stroke-linejoin="round"/>
<ellipse cx="217.6" cy="474.6" rx="5.0" ry="10.5" fill="none" stroke="#000" stroke-width="1.30"/>
<ellipse cx="217.2" cy="474.6" rx="2.5" ry="4.7" fill="none" stroke="#000" stroke-width="1.30"/>
<path d="M227.1,466.2 A5.0,10.5 0 0 1 227.1,487.2" fill="none" stroke="#000" stroke-width="1.3" stroke-linecap="butt" stroke-linejoin="round" stroke-dasharray="5 1.5"/>
<path d="M219.7,464.8 l7.4,0.5 M221.1,466.3 l7.4,0.8 M222.2,468.6 l7.4,1.1 M223.0,471.5 l7.4,1.4 M223.2,474.8 l7.4,1.7 M223.0,478.1 l7.4,2.0 M222.2,481.0 l7.4,2.3 M221.1,483.3 l7.4,2.6 M219.7,484.8 l7.4,2.9 " fill="none" stroke="#000" stroke-width="1.35" stroke-linecap="butt" stroke-linejoin="round"/>
<ellipse cx="232.8" cy="481.0" rx="5.0" ry="10.5" fill="none" stroke="#000" stroke-width="1.30"/>
<ellipse cx="232.4" cy="481.0" rx="2.5" ry="4.7" fill="none" stroke="#000" stroke-width="1.30"/>
<path d="M242.3,472.6 A5.0,10.5 0 0 1 242.3,493.6" fill="none" stroke="#000" stroke-width="1.3" stroke-linecap="butt" stroke-linejoin="round" stroke-dasharray="5 1.5"/>
<path d="M234.9,471.2 l7.4,0.5 M236.3,472.7 l7.4,0.8 M237.4,475.0 l7.4,1.1 M238.2,477.9 l7.4,1.4 M238.4,481.2 l7.4,1.7 M238.2,484.5 l7.4,2.0 M237.4,487.4 l7.4,2.3 M236.3,489.7 l7.4,2.6 M234.9,491.2 l7.4,2.9 " fill="none" stroke="#000" stroke-width="1.35" stroke-linecap="butt" stroke-linejoin="round"/>
<ellipse cx="250.0" cy="487.0" rx="5.0" ry="10.5" fill="none" stroke="#000" stroke-width="1.30"/>
<ellipse cx="249.6" cy="487.0" rx="2.5" ry="4.7" fill="none" stroke="#000" stroke-width="1.30"/>
<path d="M259.5,478.6 A5.0,10.5 0 0 1 259.5,499.6" fill="none" stroke="#000" stroke-width="1.3" stroke-linecap="butt" stroke-linejoin="round" stroke-dasharray="5 1.5"/>
<path d="M252.1,477.2 l7.4,0.5 M253.5,478.7 l7.4,0.8 M254.6,481.0 l7.4,1.1 M255.4,483.9 l7.4,1.4 M255.6,487.2 l7.4,1.7 M255.4,490.5 l7.4,2.0 M254.6,493.4 l7.4,2.3 M253.5,495.7 l7.4,2.6 M252.1,497.2 l7.4,2.9 " fill="none" stroke="#000" stroke-width="1.35" stroke-linecap="butt" stroke-linejoin="round"/>
<path d="M196,456 L226,463.6 M192,478.8 L262,502" fill="none" stroke="#000" stroke-width="1.0" stroke-linecap="butt" stroke-linejoin="round" stroke-dasharray="10 4"/>
<path d="M262,502 L298,500" fill="none" stroke="#000" stroke-width="1.0" stroke-linecap="butt" stroke-linejoin="round" stroke-dasharray="10 4"/>
<path d="M254,473 L298,469.6" fill="none" stroke="#000" stroke-width="1.0" stroke-linecap="butt" stroke-linejoin="round" stroke-dasharray="9 4"/>
<path d="M228,462 Q236,458 244,461 M243,468 Q252,464 259,468" fill="none" stroke="#000" stroke-width="1.0" stroke-linecap="butt" stroke-linejoin="round" stroke-dasharray="6 2"/>
<path d="M233,448 L233,461 M246,452 L246,466" fill="none" stroke="#000" stroke-width="1.0" stroke-linecap="butt" stroke-linejoin="round" stroke-dasharray="4 2"/>
<ellipse cx="283.0" cy="433.4" rx="6.0" ry="2.6" fill="#fff" stroke="#000" stroke-width="1.20"/>
<ellipse cx="283.0" cy="433.6" rx="3.3" ry="1.3" fill="none" stroke="#000" stroke-width="0.96"/>
<path d="M277.0,433.4 L277.0,442.4 M289.0,433.4 L289.0,442.4" fill="none" stroke="#000" stroke-width="1.2" stroke-linecap="butt" stroke-linejoin="round"/>
<path d="M277.0,442.4 A6.0,2.6 0 0 0 289.0,442.4" fill="none" stroke="#000" stroke-width="1.2" stroke-linecap="butt" stroke-linejoin="round" stroke-dasharray="5 1.5"/>
<ellipse cx="301.0" cy="437.6" rx="6.0" ry="2.6" fill="#fff" stroke="#000" stroke-width="1.20"/>
<ellipse cx="301.0" cy="437.8" rx="3.3" ry="1.3" fill="none" stroke="#000" stroke-width="0.96"/>
<path d="M295.0,437.6 L295.0,446.6 M307.0,437.6 L307.0,446.6" fill="none" stroke="#000" stroke-width="1.2" stroke-linecap="butt" stroke-linejoin="round"/>
<path d="M295.0,446.6 A6.0,2.6 0 0 0 307.0,446.6" fill="none" stroke="#000" stroke-width="1.2" stroke-linecap="butt" stroke-linejoin="round" stroke-dasharray="5 1.5"/>
<ellipse cx="315.6" cy="444.0" rx="6.0" ry="2.6" fill="#fff" stroke="#000" stroke-width="1.20"/>
<ellipse cx="315.6" cy="444.2" rx="3.3" ry="1.3" fill="none" stroke="#000" stroke-width="0.96"/>
<path d="M309.6,444.0 L309.6,453.0 M321.6,444.0 L321.6,453.0" fill="none" stroke="#000" stroke-width="1.2" stroke-linecap="butt" stroke-linejoin="round"/>
<path d="M309.6,453.0 A6.0,2.6 0 0 0 321.6,453.0" fill="none" stroke="#000" stroke-width="1.2" stroke-linecap="butt" stroke-linejoin="round" stroke-dasharray="5 1.5"/>
<ellipse cx="330.6" cy="448.6" rx="6.0" ry="2.6" fill="#fff" stroke="#000" stroke-width="1.20"/>
<ellipse cx="330.6" cy="448.8" rx="3.3" ry="1.3" fill="none" stroke="#000" stroke-width="0.96"/>
<path d="M324.6,448.6 L324.6,457.6 M336.6,448.6 L336.6,457.6" fill="none" stroke="#000" stroke-width="1.2" stroke-linecap="butt" stroke-linejoin="round"/>
<path d="M324.6,457.6 A6.0,2.6 0 0 0 336.6,457.6" fill="none" stroke="#000" stroke-width="1.2" stroke-linecap="butt" stroke-linejoin="round" stroke-dasharray="5 1.5"/>
<ellipse cx="346.0" cy="455.0" rx="6.0" ry="2.6" fill="#fff" stroke="#000" stroke-width="1.20"/>
<ellipse cx="346.0" cy="455.2" rx="3.3" ry="1.3" fill="none" stroke="#000" stroke-width="0.96"/>
<path d="M340.0,455.0 L340.0,464.0 M352.0,455.0 L352.0,464.0" fill="none" stroke="#000" stroke-width="1.2" stroke-linecap="butt" stroke-linejoin="round"/>
<path d="M340.0,464.0 A6.0,2.6 0 0 0 352.0,464.0" fill="none" stroke="#000" stroke-width="1.2" stroke-linecap="butt" stroke-linejoin="round" stroke-dasharray="5 1.5"/>
<ellipse cx="262.4" cy="456.6" rx="4.0" ry="2.6" fill="#fff" stroke="#000" stroke-width="1.20"/>
<ellipse cx="262.4" cy="456.8" rx="2.2" ry="1.3" fill="none" stroke="#000" stroke-width="0.96"/>
<path d="M258.4,456.6 L258.4,463.6 M266.4,456.6 L266.4,463.6" fill="none" stroke="#000" stroke-width="1.2" stroke-linecap="butt" stroke-linejoin="round"/>
<path d="M258.4,463.6 A4.0,2.6 0 0 0 266.4,463.6" fill="none" stroke="#000" stroke-width="1.2" stroke-linecap="butt" stroke-linejoin="round" stroke-dasharray="5 1.5"/>
<ellipse cx="273.4" cy="451.6" rx="4.0" ry="2.6" fill="#fff" stroke="#000" stroke-width="1.20"/>
<ellipse cx="273.4" cy="451.8" rx="2.2" ry="1.3" fill="none" stroke="#000" stroke-width="0.96"/>
<path d="M269.4,451.6 L269.4,458.6 M277.4,451.6 L277.4,458.6" fill="none" stroke="#000" stroke-width="1.2" stroke-linecap="butt" stroke-linejoin="round"/>
<path d="M269.4,458.6 A4.0,2.6 0 0 0 277.4,458.6" fill="none" stroke="#000" stroke-width="1.2" stroke-linecap="butt" stroke-linejoin="round" stroke-dasharray="5 1.5"/>
<ellipse cx="278.4" cy="464.4" rx="4.0" ry="2.6" fill="#fff" stroke="#000" stroke-width="1.20"/>
<ellipse cx="278.4" cy="464.6" rx="2.2" ry="1.3" fill="none" stroke="#000" stroke-width="0.96"/>
<path d="M274.4,464.4 L274.4,471.4 M282.4,464.4 L282.4,471.4" fill="none" stroke="#000" stroke-width="1.2" stroke-linecap="butt" stroke-linejoin="round"/>
<path d="M274.4,471.4 A4.0,2.6 0 0 0 282.4,471.4" fill="none" stroke="#000" stroke-width="1.2" stroke-linecap="butt" stroke-linejoin="round" stroke-dasharray="5 1.5"/>
<ellipse cx="252.0" cy="448.4" rx="3.5" ry="2.6" fill="#fff" stroke="#000" stroke-width="1.20"/>
<ellipse cx="252.0" cy="448.6" rx="1.9" ry="1.3" fill="none" stroke="#000" stroke-width="0.96"/>
<path d="M248.5,448.4 L248.5,453.4 M255.5,448.4 L255.5,453.4" fill="none" stroke="#000" stroke-width="1.2" stroke-linecap="butt" stroke-linejoin="round"/>
<path d="M248.5,453.4 A3.5,2.6 0 0 0 255.5,453.4" fill="none" stroke="#000" stroke-width="1.2" stroke-linecap="butt" stroke-linejoin="round" stroke-dasharray="5 1.5"/>
<ellipse cx="266.0" cy="444.6" rx="3.5" ry="2.6" fill="#fff" stroke="#000" stroke-width="1.20"/>
<ellipse cx="266.0" cy="444.8" rx="1.9" ry="1.3" fill="none" stroke="#000" stroke-width="0.96"/>
<path d="M262.5,444.6 L262.5,449.6 M269.5,444.6 L269.5,449.6" fill="none" stroke="#000" stroke-width="1.2" stroke-linecap="butt" stroke-linejoin="round"/>
<path d="M262.5,449.6 A3.5,2.6 0 0 0 269.5,449.6" fill="none" stroke="#000" stroke-width="1.2" stroke-linecap="butt" stroke-linejoin="round" stroke-dasharray="5 1.5"/>
<path d="M318.1,461.4 l5.2,-1.3 M328.7,461.8 l2.6,0.4 M324.8,458.9 l7.0,1.2 M294.4,459.2 l5.2,0.9 M278.7,461.8 l3.1,-0.8 M300.6,456.9 l6.5,1.1 M294.6,457.6 l2.0,-0.5 M284.9,460.6 l5.9,-1.5 M315.8,464.7 l4.2,-1.0 M312.3,465.1 l4.8,-1.2 M310.0,457.0 l4.3,0.7 M277.1,460.0 l3.2,-0.8 M295.9,464.7 l4.2,0.7 M314.5,458.6 l4.1,0.7 M294.7,456.6 l7.4,1.3 M326.1,461.2 l2.1,-0.5 M303.7,461.9 l2.5,0.4 M312.1,465.3 l2.8,-0.7 M335.5,460.8 l4.2,0.7 M316.3,462.2 l2.4,-0.6 M328.2,461.0 l2.1,-0.5 M285.9,462.1 l4.4,-1.1 M316.0,464.2 l5.2,0.9 M286.9,459.7 l2.9,0.5 M329.9,462.5 l3.3,0.6 M321.8,457.9 l4.5,0.8 M320.4,462.1 l4.8,0.8 M306.6,465.8 l2.7,0.5 M301.8,456.3 l4.9,-1.2 M320.1,461.6 l3.0,0.5 M306.9,464.8 l4.0,0.7 M334.4,459.8 l7.4,1.3 M313.3,462.1 l4.9,0.8 M288.5,459.0 l3.5,-0.9 M324.5,458.6 l5.0,0.8 M283.2,461.7 l5.1,-1.3 M311.4,463.2 l5.1,-1.3 M320.1,461.2 l3.5,-0.9 M297.4,461.8 l5.1,-1.3 M315.3,464.6 l5.7,1.0 M291.2,463.8 l3.0,-0.8 M315.8,462.8 l4.6,-1.1 M305.6,462.4 l5.0,-1.2 M313.2,463.6 l5.5,-1.4 M337.6,460.6 l5.1,0.9 M307.1,464.7 l7.2,1.2 M319.5,460.8 l6.2,1.0 M317.0,459.4 l5.8,1.0 M319.4,461.6 l4.5,-1.1 M277.0,461.3 l3.8,-0.9 M303.1,463.4 l5.7,1.0 M293.7,459.1 l2.8,0.5 M287.1,459.7 l3.5,0.6 M299.3,460.1 l5.6,0.9 M311.9,464.7 l2.5,0.4 M294.5,461.4 l2.5,-0.6 M283.3,458.5 l5.6,0.9 M300.3,459.3 l4.3,-1.1 M312.1,458.2 l5.3,-1.3 M287.2,459.2 l5.5,0.9 M337.4,460.8 l5.5,0.9 M298.6,455.1 l3.0,0.5 M295.0,457.7 l4.5,-1.1 M298.4,460.9 l3.6,0.6 M315.6,457.0 l5.8,-1.5 M298.9,458.5 l7.4,1.3 M295.4,460.0 l7.4,1.3 M297.3,461.7 l2.5,-0.6 M295.3,459.7 l5.1,-1.3 M290.7,463.7 l3.1,-0.8 " fill="none" stroke="#000" stroke-width="1.7" stroke-linecap="butt" stroke-linejoin="round"/>
<path d="M270,460 L300,454.6 L340,462.4" fill="none" stroke="#000" stroke-width="1.2" stroke-linecap="butt" stroke-linejoin="round"/>
<path d="M258,458 L270,460 M256,466 L268,468.6 M262,471.6 L298,470" fill="none" stroke="#000" stroke-width="1.0" stroke-linecap="butt" stroke-linejoin="round" stroke-dasharray="5 2"/>
<path d="M299,468 L340,464 L340,495 L299,501 Z" fill="#fff" stroke="#000" stroke-width="1.3" stroke-linecap="butt" stroke-linejoin="round"/>
<path d="M315.6,493.6 L318.4,493.4 M317,493.6 L317,497" fill="none" stroke="#000" stroke-width="1.1" stroke-linecap="butt" stroke-linejoin="round"/>
<path d="M302.6,501 L302.6,505.6 L305.8,505.6 L305.8,500.4 M327.6,497.6 L327.6,502.4 L330.8,502.4 L330.8,497" fill="none" stroke="#000" stroke-width="1.0" stroke-linecap="butt" stroke-linejoin="round"/>
<path d="M293.6,470 L293.6,498 M293.6,499.6 L299,501" fill="none" stroke="#000" stroke-width="1.0" stroke-linecap="butt" stroke-linejoin="round" stroke-dasharray="6 3"/>
<path d="M340,463 L356,458.4 M356,458.4 L368.6,462" fill="none" stroke="#000" stroke-width="1.0" stroke-linecap="butt" stroke-linejoin="round" stroke-dasharray="8 3"/>
<path d="M368.6,462 Q373.6,468 372.6,478 Q372,486 368,489.4" fill="none" stroke="#000" stroke-width="1.1" stroke-linecap="butt" stroke-linejoin="round"/>
<path d="M342,495 L368,489.4" fill="none" stroke="#000" stroke-width="1.0" stroke-linecap="butt" stroke-linejoin="round" stroke-dasharray="9 3"/>
<path d="M371.6,463.4 Q376.6,461.6 380,465 Q382.6,474 380.6,482.6 Q377,487 372.6,485" fill="none" stroke="#000" stroke-width="1.1" stroke-linecap="butt" stroke-linejoin="round"/>
<path d="M373.4,465.4 L380.4,466.0 M373.4,468.0 L380.4,468.6 M373.4,470.6 L380.4,471.2 M373.4,473.2 L380.4,473.8 M373.4,475.8 L380.4,476.4 M373.4,478.4 L380.4,479.0 M373.4,481.0 L380.4,481.6 M373.4,483.6 L380.4,484.2 " fill="none" stroke="#000" stroke-width="1.0" stroke-linecap="butt" stroke-linejoin="round"/>
<path d="M224.9,697.9 L224.9,686.8 L227.2,687.4 L230.6,690.3 L230.6,695.1" fill="none" stroke="#000" stroke-width="1.2" stroke-linecap="butt" stroke-linejoin="round"/>
<path d="M224.9,719.2 L224.9,740.5" fill="none" stroke="#000" stroke-width="1.2" stroke-linecap="butt" stroke-linejoin="round"/>
<path d="M224.9,761.8 L224.9,771 Q225.5,775.5 236.1,779" fill="none" stroke="#000" stroke-width="1.2" stroke-linecap="butt" stroke-linejoin="round"/>
<path d="M254.7,780.2 Q265,781 275.3,780.2" fill="none" stroke="#000" stroke-width="1.5" stroke-linecap="butt" stroke-linejoin="round"/>
<path d="M294.6,778.8 Q304.5,776 304.9,771 L304.9,765.3" fill="none" stroke="#000" stroke-width="1.2" stroke-linecap="butt" stroke-linejoin="round"/>
<path d="M304.9,735.7 L304.9,750.4" fill="none" stroke="#000" stroke-width="1.2" stroke-linecap="butt" stroke-linejoin="round"/>
<polygon points="236.6,690.2 239.5,691 260.3,698.3 260.1,698.9 238.5,693.0 236.4,692.2" fill="#000"/>
<path d="M202.5,646.9 L209.4,646 M203,644.6 L203.4,647" fill="none" stroke="#000" stroke-width="0.9" stroke-linecap="butt" stroke-linejoin="round"/>
<path d="M225,644 L240,641.9" fill="none" stroke="#000" stroke-width="0.9" stroke-linecap="butt" stroke-linejoin="round"/>
<path d="M255.6,640.25 L263.6,640.6 L270,642.5 M276.25,645 L292.5,650" fill="none" stroke="#000" stroke-width="0.9" stroke-linecap="butt" stroke-linejoin="round"/>
<path d="M218.75,653.75 L256.25,665" fill="none" stroke="#000" stroke-width="0.9" stroke-linecap="butt" stroke-linejoin="round" stroke-dasharray="6 3 2 3"/>
<path d="M267.5,669.4 L280,673.75 M286,676 L293.1,678.75" fill="none" stroke="#000" stroke-width="0.9" stroke-linecap="butt" stroke-linejoin="round"/>
<path d="M293.75,678.75 L293.75,710" fill="none" stroke="#000" stroke-width="0.9" stroke-linecap="butt" stroke-linejoin="round" stroke-dasharray="9 3"/>
<path d="M293.1,678.75 L355,673.1" fill="none" stroke="#000" stroke-width="0.9" stroke-linecap="butt" stroke-linejoin="round" stroke-dasharray="10 4 3 4"/>
<path d="M355,673.1 L355,698.75" fill="none" stroke="#000" stroke-width="0.9" stroke-linecap="butt" stroke-linejoin="round" stroke-dasharray="8 4"/>
<path d="M283.75,707.5 L296.25,710.6" fill="none" stroke="#000" stroke-width="0.9" stroke-linecap="butt" stroke-linejoin="round"/>
<path d="M321.25,660 L330,663.75 M336.25,666.25 L345,669.4 M347.5,671.25 L355,673.1" fill="none" stroke="#000" stroke-width="0.9" stroke-linecap="butt" stroke-linejoin="round"/>
<path d="M300,654.5 L312,658.4" fill="none" stroke="#000" stroke-width="0.9" stroke-linecap="butt" stroke-linejoin="round"/>
<path d="M202,673.5 L214,678 M205,674 Q207,677.6 210.5,675.6" fill="none" stroke="#000" stroke-width="0.9" stroke-linecap="butt" stroke-linejoin="round"/>
<path d="M224.4,655.8 l0,6.6 l6.4,2.1 l0,-6.6 M227.6,656.8 l0,6.4 M224.4,659.0 l6.4,2.1" fill="none" stroke="#000" stroke-width="1.0" stroke-linecap="butt" stroke-linejoin="round" stroke-dasharray="2.2 1.3"/>
<path d="M226.4,655.2 l4,1.3" fill="none" stroke="#000" stroke-width="1.6" stroke-linecap="butt" stroke-linejoin="round"/>
<path d="M238.8,659.8 l0,6.6 l6.4,2.1 l0,-6.6 M241.9,660.8 l0,6.4 M238.8,663.0 l6.4,2.1" fill="none" stroke="#000" stroke-width="1.0" stroke-linecap="butt" stroke-linejoin="round" stroke-dasharray="2.2 1.3"/>
<path d="M240.8,659.2 l4,1.3" fill="none" stroke="#000" stroke-width="1.6" stroke-linecap="butt" stroke-linejoin="round"/>
<path d="M278.8,676 L278.8,681 L283,682.4 M284,678 L287.6,679.4" fill="none" stroke="#000" stroke-width="0.9" stroke-linecap="butt" stroke-linejoin="round" stroke-dasharray="2.5 1.5"/>
<path d="M226.0,665.1 Q219.6,664.8 220.2,668.9 Q219.6,673.0 226.0,672.6" fill="none" stroke="#000" stroke-width="0.9" stroke-linecap="butt" stroke-linejoin="round"/>
<path d="M235.5,662.0 Q232.4,661.6 232.8,663.8 Q232.4,666.0 235.5,665.6" fill="none" stroke="#000" stroke-width="0.9" stroke-linecap="butt" stroke-linejoin="round"/>
<path d="M238.5,672.0 Q235.4,671.6 235.8,673.8 Q235.4,676.0 238.5,675.6" fill="none" stroke="#000" stroke-width="0.9" stroke-linecap="butt" stroke-linejoin="round"/>
<path d="M275.3,683.4 Q269.4,683.0 270.0,686.9 Q269.4,690.8 275.3,690.4" fill="none" stroke="#000" stroke-width="0.9" stroke-linecap="butt" stroke-linejoin="round"/>
<path d="M288.0,692.4 Q284.2,692.0 284.6,694.6 Q284.2,697.2 288.0,696.8" fill="none" stroke="#000" stroke-width="0.9" stroke-linecap="butt" stroke-linejoin="round"/>
<path d="M293.3,699.6 Q287.4,699.2 288.1,703.0 Q287.4,706.8 293.3,706.4" fill="none" stroke="#000" stroke-width="0.9" stroke-linecap="butt" stroke-linejoin="round"/>
<path d="M293.9,697.6 L293.9,708.6" fill="none" stroke="#000" stroke-width="1.0" stroke-linecap="butt" stroke-linejoin="round"/>
<ellipse cx="252.0" cy="677.3" rx="5.7" ry="10.0" fill="none" stroke="#000" stroke-width="1.1"/>
<ellipse cx="251.5" cy="677.5" rx="3.9" ry="8.0" fill="none" stroke="#000" stroke-width="1.1"/>
<ellipse cx="250.7" cy="678.1" rx="1.7" ry="2.3" fill="none" stroke="#000" stroke-width="0.9"/>
<path d="M250.7,676 L250.7,680.2" fill="none" stroke="#000" stroke-width="0.8" stroke-linecap="butt" stroke-linejoin="round"/>
<ellipse cx="265.6" cy="690.3" rx="3.6" ry="9.4" fill="none" stroke="#000" stroke-width="0.9" stroke-dasharray="9 3 5 3"/>
<ellipse cx="266.2" cy="690.3" rx="2.0" ry="5.2" fill="none" stroke="#000" stroke-width="0.9" stroke-dasharray="6 5"/>
<circle cx="263.6" cy="682" r="1.0" fill="#000"/>
<circle cx="316.2" cy="688.1" r="7.0" fill="none" stroke="#000" stroke-width="1.0" stroke-dasharray="30 4"/>
<circle cx="316.2" cy="688.1" r="3.8" fill="none" stroke="#000" stroke-width="1.0" stroke-dasharray="14 5"/>
<circle cx="316.6" cy="687.6" r="1.3" fill="none" stroke="#000" stroke-width="0.8" stroke-dasharray="3 2"/>
<circle cx="331.9" cy="686.9" r="7.0" fill="none" stroke="#000" stroke-width="1.0" stroke-dasharray="28 5"/>
<circle cx="331.9" cy="686.9" r="3.8" fill="none" stroke="#000" stroke-width="1.0" stroke-dasharray="15 6"/>
<path d="M301.5,696.4 A5.8,5.8 0 0 0 301.6,706.6 M308.6,696 A5.8,5.8 0 0 1 310.8,699.4" fill="none" stroke="#000" stroke-width="1.0" stroke-linecap="butt" stroke-linejoin="round"/>
<path d="M303.2,698.6 A3.2,3.2 0 0 0 303.4,704.4 M306,698.2 Q307.6,698.8 308,700.4" fill="none" stroke="#000" stroke-width="1.0" stroke-linecap="butt" stroke-linejoin="round"/>
<path d="M339.4,692 A6.2,6.2 0 0 0 338.2,699.4 M347.6,691.2 A6.2,6.2 0 0 1 349.8,698" fill="none" stroke="#000" stroke-width="1.0" stroke-linecap="butt" stroke-linejoin="round"/>
<path d="M342.2,693.6 A3.2,3.2 0 0 0 341.4,698.6 M345.6,693.4 A3.2,3.2 0 0 1 346.8,697.8" fill="none" stroke="#000" stroke-width="1.0" stroke-linecap="butt" stroke-linejoin="round"/>
<path d="M343.6,694.8 L343.4,698" fill="none" stroke="#000" stroke-width="0.8" stroke-linecap="butt" stroke-linejoin="round"/>
<ellipse cx="311.9" cy="679.8" rx="1.7" ry="1.0" fill="#000" transform="rotate(15 311.9 679.8)"/>
<ellipse cx="338.8" cy="676.9" rx="1.7" ry="1.0" fill="#000" transform="rotate(15 338.8 676.9)"/>
<ellipse cx="298.1" cy="693.8" rx="1.7" ry="1.0" fill="#000" transform="rotate(15 298.1 693.8)"/>
<ellipse cx="349.4" cy="687.5" rx="1.7" ry="1.0" fill="#000" transform="rotate(15 349.4 687.5)"/>
<ellipse cx="297.5" cy="693.8" rx="1.7" ry="1.0" fill="#000" transform="rotate(15 297.5 693.8)"/>
<path d="M230.3,651.0 l2.3,0.8 M234.3,651.0 l2.3,0.8 M231.3,653.4 l1.4,0.3 M238.7,650.0 l2.3,0.8 M242.7,650.0 l2.3,0.8 M239.7,652.4 l1.4,0.3 M247.0,649.0 l2.3,0.8 M251.0,649.0 l2.3,0.8 M255.4,648.0 l3.4,1.2 M259.3,648.0 l2.3,0.8 M239.4,654.1 l3.4,1.2 M243.4,654.1 l2.3,0.8 M240.4,656.5 l1.4,0.3 M247.8,653.1 l2.3,0.8 M248.8,655.5 l1.4,0.3 M256.1,652.1 l2.8,1.0 M260.1,652.1 l2.3,0.8 M264.5,651.1 l3.4,1.2 M265.5,653.5 l1.4,0.3 M272.8,650.1 l3.4,1.2 M276.8,650.0 l2.3,0.8 M273.8,652.5 l1.4,0.3 M248.5,657.2 l3.4,1.2 M252.5,657.2 l2.3,0.8 M249.5,659.6 l1.4,0.3 M256.9,656.2 l2.8,1.0 M265.2,655.2 l2.8,1.0 M269.2,655.2 l2.3,0.8 M273.5,654.2 l2.3,0.8 M277.5,654.1 l2.3,0.8 M281.9,653.1 l2.8,1.0 M285.9,653.1 l2.3,0.8 M282.9,655.5 l1.4,0.3 M257.6,660.3 l2.3,0.8 M261.6,660.3 l2.3,0.8 M258.6,662.7 l1.4,0.3 M266.0,659.3 l2.8,1.0 M269.9,659.2 l2.3,0.8 M282.6,657.2 l2.8,1.0 M286.6,657.2 l2.3,0.8 M291.0,656.2 l2.8,1.0 M295.0,656.2 l2.3,0.8 M292.0,658.6 l1.4,0.3 M266.7,663.4 l3.4,1.2 M270.7,663.3 l2.3,0.8 M267.7,665.8 l1.4,0.3 M275.0,662.3 l3.4,1.2 M279.0,662.3 l2.3,0.8 M283.4,661.3 l3.4,1.2 M287.4,661.3 l2.3,0.8 M300.1,659.3 l2.3,0.8 M304.0,659.3 l2.3,0.8 M284.1,665.4 l3.4,1.2 M288.1,665.4 l2.3,0.8 M292.5,664.4 l2.3,0.8 M296.5,664.4 l2.3,0.8 M300.8,663.4 l2.3,0.8 M309.2,662.4 l2.8,1.0 M284.9,669.5 l2.3,0.8 M288.9,669.5 l2.3,0.8 M285.9,671.9 l1.4,0.3 M293.2,668.5 l2.3,0.8 M297.2,668.5 l2.3,0.8 M309.9,666.5 l2.3,0.8 M313.9,666.5 l2.3,0.8 M318.3,665.5 l2.3,0.8 M322.2,665.5 l2.3,0.8 M294.0,672.6 l3.4,1.2 M298.0,672.6 l2.3,0.8 M302.3,671.6 l3.4,1.2 M310.7,670.6 l2.3,0.8 M314.6,670.6 l2.3,0.8 M327.3,668.6 l2.8,1.0 M331.3,668.6 l2.3,0.8 " fill="none" stroke="#000" stroke-width="1.35" stroke-linecap="butt" stroke-linejoin="round"/>
<path d="M274,646.6 l4,1.2 l-1.5,1.4 l-2.6,-0.6 M292,651.4 l4.2,1.4 l-1.4,1.4 l-2.8,-0.8 M283.5,651 l3,1" fill="none" stroke="#000" stroke-width="1.4" stroke-linecap="butt" stroke-linejoin="round"/>
<path d="M298,653.6 L345.5,648 M356.5,646.7 L380,644 M410.5,641.2 L441,637.6 M490,631.8 L537,626.2" fill="none" stroke="#000" stroke-width="1.0" stroke-linecap="butt" stroke-linejoin="round"/>
<path d="M310,667.3 L415.6,655.3" fill="none" stroke="#000" stroke-width="1.0" stroke-linecap="butt" stroke-linejoin="round"/>
<path d="M559.40,629.00 C560.33,628.75 563.44,628.38 565.00,627.50 C566.56,626.62 568.12,625.21 568.75,623.75 C569.38,622.29 569.79,620.52 568.75,618.75 C567.71,616.98 565.62,614.88 562.50,613.10 C559.38,611.33 553.75,609.38 550.00,608.10 C546.25,606.82 545.00,606.63 540.00,605.40 C535.00,604.17 526.67,601.93 520.00,600.70 C513.33,599.47 506.67,598.78 500.00,598.00 C493.33,597.22 486.67,596.67 480.00,596.00 C473.33,595.33 466.67,594.62 460.00,594.00 C453.33,593.38 445.00,592.72 440.00,592.30 C435.00,591.88 434.79,591.53 430.00,591.50 C425.21,591.47 416.46,591.52 411.25,592.10 C406.04,592.68 402.08,593.68 398.75,595.00 C395.42,596.32 393.02,598.12 391.25,600.00 C389.48,601.88 388.21,604.07 388.10,606.25 C387.99,608.43 388.83,610.81 390.60,613.10 C392.38,615.39 395.31,617.88 398.75,620.00 C402.19,622.12 406.04,623.70 411.25,625.80 C416.46,627.90 425.21,630.90 430.00,632.60 C434.79,634.30 435.00,634.35 440.00,636.00 C445.00,637.65 453.33,640.67 460.00,642.50 C466.67,644.33 473.33,645.67 480.00,647.00 C486.67,648.33 493.33,649.40 500.00,650.50 C506.67,651.60 512.50,652.48 520.00,653.60 C527.50,654.72 538.33,656.27 545.00,657.20 C551.67,658.13 553.33,658.11 560.00,659.20 C566.67,660.29 576.67,662.28 585.00,663.75 C593.33,665.22 601.67,666.67 610.00,668.00 C618.33,669.33 626.67,670.71 635.00,671.75 C643.33,672.79 651.67,673.62 660.00,674.25 C668.33,674.88 676.67,675.46 685.00,675.50 C693.33,675.54 702.00,674.92 710.00,674.50 C718.00,674.08 729.17,673.25 733.00,673.00" fill="none" stroke="#000" stroke-width="1.6" stroke-linecap="butt" stroke-linejoin="round"/>
<path d="M402.50,603.10 C403.12,603.52 404.79,604.90 406.25,605.60 C407.71,606.30 407.29,607.00 411.25,607.30 C415.21,607.60 425.21,607.23 430.00,607.40 C434.79,607.57 435.00,607.90 440.00,608.30 C445.00,608.70 453.33,609.27 460.00,609.80 C466.67,610.33 473.33,610.80 480.00,611.50 C486.67,612.20 493.33,613.12 500.00,614.00 C506.67,614.88 513.96,615.76 520.00,616.80 C526.04,617.84 533.54,619.67 536.25,620.25" fill="none" stroke="#000" stroke-width="1.6" stroke-linecap="butt" stroke-linejoin="round"/>
<path d="M411.25,607.75 C413.33,608.66 418.96,611.24 423.75,613.20 C428.54,615.16 433.96,617.37 440.00,619.50 C446.04,621.63 453.33,624.08 460.00,626.00 C466.67,627.92 473.33,629.67 480.00,631.00 C486.67,632.33 493.33,632.97 500.00,634.00 C506.67,635.03 512.50,635.99 520.00,637.20 C527.50,638.41 538.33,640.16 545.00,641.25 C551.67,642.34 553.33,642.71 560.00,643.75 C566.67,644.79 576.67,646.25 585.00,647.50 C593.33,648.75 601.67,650.00 610.00,651.25 C618.33,652.50 626.67,653.88 635.00,655.00 C643.33,656.12 651.67,657.17 660.00,658.00 C668.33,658.83 677.08,659.79 685.00,660.00 C692.92,660.21 699.75,659.90 707.50,659.25 C715.25,658.60 727.50,656.62 731.50,656.10" fill="none" stroke="#000" stroke-width="1.6" stroke-linecap="butt" stroke-linejoin="round"/>
<path d="M537.5,614.5 Q537.5,608.5 543.5,606.4" fill="none" stroke="#000" stroke-width="1.4" stroke-linecap="butt" stroke-linejoin="round"/>
<path d="M552.5,612.3 Q556,609.8 561.5,613.8 M556.5,616 L560.5,618.4" fill="none" stroke="#000" stroke-width="1.1" stroke-linecap="butt" stroke-linejoin="round"/>
<path d="M542.5,615.6 L556.2,615.4 L559.4,618 L559.4,629 L555,634.4 L543.75,636.4" fill="none" stroke="#000" stroke-width="1.7" stroke-linecap="butt" stroke-linejoin="round"/>
<path d="M547.5,620.4 L547.5,632.5 L543.75,636.4 M547.5,620.4 L542.5,615.6 M547.5,620.4 L559,618.5" fill="none" stroke="#000" stroke-width="1.1" stroke-linecap="butt" stroke-linejoin="round"/>
<path d="M542.5,615.6 L538.2,618 L536.9,627 L539.4,634 L543.75,636.4" fill="none" stroke="#000" stroke-width="1.9" stroke-linecap="butt" stroke-linejoin="round"/>
<ellipse cx="541.9" cy="625.3" rx="3.0" ry="6.3" fill="#fff" stroke="#000" stroke-width="1.5"/>
<path d="M709,659.1 Q714.6,667.5 710.5,674.5" fill="none" stroke="#000" stroke-width="1.3" stroke-linecap="butt" stroke-linejoin="round"/>
<path d="M733,654.4 L741,653.9 L744.3,657 L744.3,671.5 L741.5,674.2 L733.4,674.6 Z" fill="#fff" stroke="#000" stroke-width="2.2" stroke-linecap="butt" stroke-linejoin="round"/>
<path d="M738.4,659.5 L738.4,673 M738.4,659.5 L735.2,655 M738.4,659.5 L743.5,658.8" fill="none" stroke="#000" stroke-width="1.5" stroke-linecap="butt" stroke-linejoin="round"/>
<path d="M744.3,655.6 L750,655.3 Q753.4,662 751,669.4 L744.3,670.2" fill="none" stroke="#000" stroke-width="1.4" stroke-linecap="butt" stroke-linejoin="round"/>
<path d="M593.65,812.75 L593.65,664.70" fill="none" stroke="#000" stroke-width="1.1" stroke-linecap="butt" stroke-linejoin="round"/>
<polygon points="593.65,664.70 595.95,675.20 591.35,675.20" fill="#000"/>
<path d="M355.60,676.50 C358.73,677.35 368.15,679.52 374.40,681.60 C380.65,683.68 386.85,686.35 393.10,689.00 C399.35,691.65 406.90,694.83 411.90,697.50 C416.90,700.17 420.45,702.50 423.10,705.00 C425.75,707.50 427.33,710.17 427.80,712.50 C428.27,714.83 427.30,717.38 425.90,719.00 C424.50,720.62 422.05,721.77 419.40,722.25 C416.75,722.73 414.07,722.52 410.00,721.90 C405.93,721.27 400.32,719.60 395.00,718.50 C389.68,717.40 383.10,715.97 378.10,715.30 C373.10,714.63 369.52,714.42 365.00,714.50 C360.48,714.58 353.33,715.58 351.00,715.80" fill="none" stroke="#000" stroke-width="1.6" stroke-linecap="butt" stroke-linejoin="round"/>
<path d="M355.60,692.25 C357.79,692.75 364.52,694.19 368.75,695.25 C372.98,696.31 378.96,698.04 381.00,698.60" fill="none" stroke="#000" stroke-width="1.6" stroke-linecap="butt" stroke-linejoin="round"/>
<path d="M351.00,701.10 C353.33,700.83 360.17,699.73 365.00,699.50 C369.83,699.27 375.00,699.30 380.00,699.75 C385.00,700.20 390.62,701.39 395.00,702.20 C399.38,703.01 402.82,703.88 406.25,704.60 C409.68,705.32 414.04,706.18 415.60,706.50" fill="none" stroke="#000" stroke-width="1.6" stroke-linecap="butt" stroke-linejoin="round"/>
<path d="M330.4,702.6 L349.7,701.2 Q355.5,708.6 350.8,715.8 L330.4,718.8" fill="none" stroke="#000" stroke-width="1.5" stroke-linecap="butt" stroke-linejoin="round"/>
<path d="M325.3,702.6 Q329,701.4 330.4,702.6 Q333,711 330.4,718.8 Q328,720 325.3,719.2" fill="none" stroke="#000" stroke-width="1.3" stroke-linecap="butt" stroke-linejoin="round"/>
<path d="M327.6,702.2 Q330,711 327.8,719.4" fill="none" stroke="#000" stroke-width="1.0" stroke-linecap="butt" stroke-linejoin="round"/>
<path d="M309.9,702.3 L319.5,701.2 L324.4,703.8 L325.2,717.4 L323,720.9 L311.6,723.1" fill="none" stroke="#000" stroke-width="1.9" stroke-linecap="butt" stroke-linejoin="round"/>
<path d="M315.1,713.9 L324.8,712.6 M315.1,713.9 L311.6,723.1 M315.1,713.9 L314.4,706 L309.9,702.3" fill="none" stroke="#000" stroke-width="1.1" stroke-linecap="butt" stroke-linejoin="round"/>
<path d="M309.9,702.3 L305.6,705 L304.4,714 L306.4,720.6 L311.6,723.1" fill="none" stroke="#000" stroke-width="2.2" stroke-linecap="butt" stroke-linejoin="round"/>
<ellipse cx="310.1" cy="712.6" rx="3.6" ry="8.6" fill="#fff" stroke="#000" stroke-width="1.6"/>
<path d="M388.40,812.75 L388.40,718.40" fill="none" stroke="#000" stroke-width="1.1" stroke-linecap="butt" stroke-linejoin="round"/>
<polygon points="388.40,718.40 390.70,728.90 386.10,728.90" fill="#000"/>
<path d="M201.90,651.90 C198.88,651.38 189.48,649.63 183.75,648.80 C178.02,647.97 172.24,647.35 167.50,646.90 C162.76,646.45 158.68,646.20 155.30,646.10 C151.92,646.00 149.37,645.97 147.20,646.30 C145.03,646.63 143.65,647.18 142.30,648.10 C140.95,649.02 139.78,650.44 139.10,651.80 C138.42,653.16 138.18,654.83 138.25,656.25 C138.32,657.67 138.69,659.07 139.50,660.30 C140.31,661.52 141.42,662.65 143.10,663.60 C144.78,664.55 147.16,665.27 149.60,666.00 C152.04,666.73 155.03,667.25 157.75,668.00 C160.47,668.75 162.93,669.88 165.90,670.50 C168.88,671.12 172.08,671.57 175.60,671.70 C179.12,671.83 184.03,671.48 187.00,671.30 C189.97,671.12 192.33,670.72 193.40,670.60" fill="none" stroke="#000" stroke-width="1.6" stroke-linecap="butt" stroke-linejoin="round"/>
<path d="M147.40,663.90 C147.23,663.03 146.30,660.38 146.40,658.70 C146.50,657.02 147.12,655.29 148.00,653.80 C148.88,652.31 151.08,650.42 151.70,649.75" fill="none" stroke="#000" stroke-width="1.5" stroke-linecap="butt" stroke-linejoin="round"/>
<path d="M151.70,649.75 C152.71,650.29 155.93,651.98 157.75,653.00 C159.57,654.02 160.71,655.10 162.60,655.85 C164.49,656.60 168.02,657.23 169.10,657.50" fill="none" stroke="#000" stroke-width="1.7" stroke-linecap="butt" stroke-linejoin="round"/>
<path d="M169.10,657.50 C167.88,657.50 163.42,657.03 161.80,657.50 C160.18,657.97 159.87,659.15 159.40,660.30 C158.93,661.45 158.73,663.12 159.00,664.40 C159.27,665.68 160.12,667.05 161.00,668.00 C161.88,668.95 163.75,669.75 164.30,670.10" fill="none" stroke="#000" stroke-width="1.5" stroke-linecap="butt" stroke-linejoin="round"/>
<path d="M167.50,658.50 C166.75,658.63 164.05,658.65 163.00,659.30 C161.95,659.95 161.47,661.22 161.20,662.40 C160.93,663.58 160.88,665.32 161.40,666.40 C161.92,667.48 163.82,668.48 164.30,668.90" fill="none" stroke="#000" stroke-width="1.1" stroke-linecap="butt" stroke-linejoin="round"/>
<path d="M169.10,657.50 C169.92,657.97 172.10,659.63 174.00,660.30 C175.90,660.97 178.20,661.33 180.50,661.50 C182.80,661.67 185.65,661.40 187.80,661.30 C189.95,661.20 192.47,660.97 193.40,660.90" fill="none" stroke="#000" stroke-width="1.6" stroke-linecap="butt" stroke-linejoin="round"/>
<path d="M193.40,660.90 C193.72,661.68 195.30,663.98 195.30,665.60 C195.30,667.22 193.72,669.77 193.40,670.60" fill="none" stroke="#000" stroke-width="1.4" stroke-linecap="butt" stroke-linejoin="round"/>
<path d="M193.4,660.9 L189.4,658.1 L193.75,655.3 L206.25,654.4 L209.4,661.6 L209.4,672.5 L198.75,674.1 L192.8,675.9 L190.9,671.25 L193.4,670.6" fill="none" stroke="#000" stroke-width="1.5" stroke-linecap="butt" stroke-linejoin="round"/>
<path d="M193.75,655.3 L195.6,656.6 L198.75,664.4 L198.75,673.9 M198.75,664.4 L209.4,661.6 M195.6,656.6 L206.6,655.6" fill="none" stroke="#000" stroke-width="1.2" stroke-linecap="butt" stroke-linejoin="round"/>
<path d="M208.6,653.6 L211.2,663 L210.4,673.6" fill="none" stroke="#000" stroke-width="3.4" stroke-linecap="butt" stroke-linejoin="round"/>
<path d="M211.5,652.6 L216,652.8 L219,659 L219,671 L216.4,673.6 L211.4,673.8" fill="none" stroke="#000" stroke-width="2.0" stroke-linecap="butt" stroke-linejoin="round"/>
<path d="M212.8,654.6 L216.2,661 L216.2,671.6 M216.2,661 L218.6,660.2" fill="none" stroke="#000" stroke-width="1.3" stroke-linecap="butt" stroke-linejoin="round"/>
<ellipse cx="350.9" cy="647.4" rx="4.3" ry="8.9" fill="none" stroke="#000" stroke-width="3.5" transform="rotate(-4 350.9 647.4)"/>
<path d="M90.00,589.80 L298.80,589.80 L347.00,636.90" fill="none" stroke="#000" stroke-width="1.1" stroke-linecap="butt" stroke-linejoin="round"/>
<polygon points="347.00,636.90 337.88,631.21 341.10,627.92" fill="#000"/>
<path d="M383.1,637 L391,636 M383.1,651.8 L391,651" fill="none" stroke="#000" stroke-width="1.6" stroke-linecap="butt" stroke-linejoin="round"/>
<path d="M386.6,636.6 Q389,644 386.8,651.4 M389.4,636.2 Q391.6,644 389.6,651" fill="none" stroke="#000" stroke-width="1.1" stroke-linecap="butt" stroke-linejoin="round"/>
<path d="M391,633.6 L394.4,631.3 L398.4,631.6 L401.2,635 L401.2,649.4 L398,654 L394,654.4 L391.2,651.6 Z" fill="#fff" stroke="#000" stroke-width="2.0" stroke-linecap="butt" stroke-linejoin="round"/>
<path d="M394.4,631.3 L396.4,637.6 L396.2,649.4 L394,654.4 M396.4,637.6 L401.2,636.4 M396.2,649.4 L401.2,648.6" fill="none" stroke="#000" stroke-width="1.1" stroke-linecap="butt" stroke-linejoin="round"/>
<path d="M401.2,634.2 L408,633.6 Q411.6,641 408.4,648.6 L401.2,649.4" fill="none" stroke="#000" stroke-width="1.7" stroke-linecap="butt" stroke-linejoin="round"/>
<path d="M404,633.9 Q406.6,641.6 404.2,649" fill="none" stroke="#000" stroke-width="1.1" stroke-linecap="butt" stroke-linejoin="round"/>
<ellipse cx="383.1" cy="644.4" rx="3.1" ry="7.5" fill="#fff" stroke="#000" stroke-width="1.8"/>
<path d="M380,644 L384.5,643.5" fill="none" stroke="#000" stroke-width="0.9" stroke-linecap="butt" stroke-linejoin="round"/>
<path d="M90.50,550.50 L309.80,550.50 L391.30,632.00" fill="none" stroke="#000" stroke-width="1.1" stroke-linecap="butt" stroke-linejoin="round"/>
<polygon points="391.30,632.00 382.25,626.20 385.50,622.95" fill="#000"/>
<ellipse cx="429" cy="652.6" rx="5.0" ry="8.4" fill="#fff" stroke="#000" stroke-width="1.3" transform="rotate(-6 429 652.6)"/>
<ellipse cx="427.6" cy="652.8" rx="4.3" ry="7.6" fill="#fff" stroke="#000" stroke-width="1.0" transform="rotate(-6 427.6 652.8)"/>
<path d="M418.5,649.1 L426.6,647.2 L427,659.6 L419,662.1 Z" fill="#fff" stroke="none" stroke-width="0" stroke-linecap="butt" stroke-linejoin="round"/>
<path d="M418.5,649.1 L426.6,647.4 M419,662.1 L426,660.4" fill="none" stroke="#000" stroke-width="1.5" stroke-linecap="butt" stroke-linejoin="round"/>
<ellipse cx="418.75" cy="655.6" rx="3.1" ry="6.6" fill="#fff" stroke="#000" stroke-width="1.6"/>
<path d="M415.6,655.3 L420,654.8" fill="none" stroke="#000" stroke-width="0.9" stroke-linecap="butt" stroke-linejoin="round"/>
<path d="M504.25,812.75 L504.25,738.75 L422.60,657.60" fill="none" stroke="#000" stroke-width="1.1" stroke-linecap="butt" stroke-linejoin="round"/>
<polygon points="422.60,657.60 431.67,663.37 428.43,666.63" fill="#000"/>
</svg>
</body></html>
